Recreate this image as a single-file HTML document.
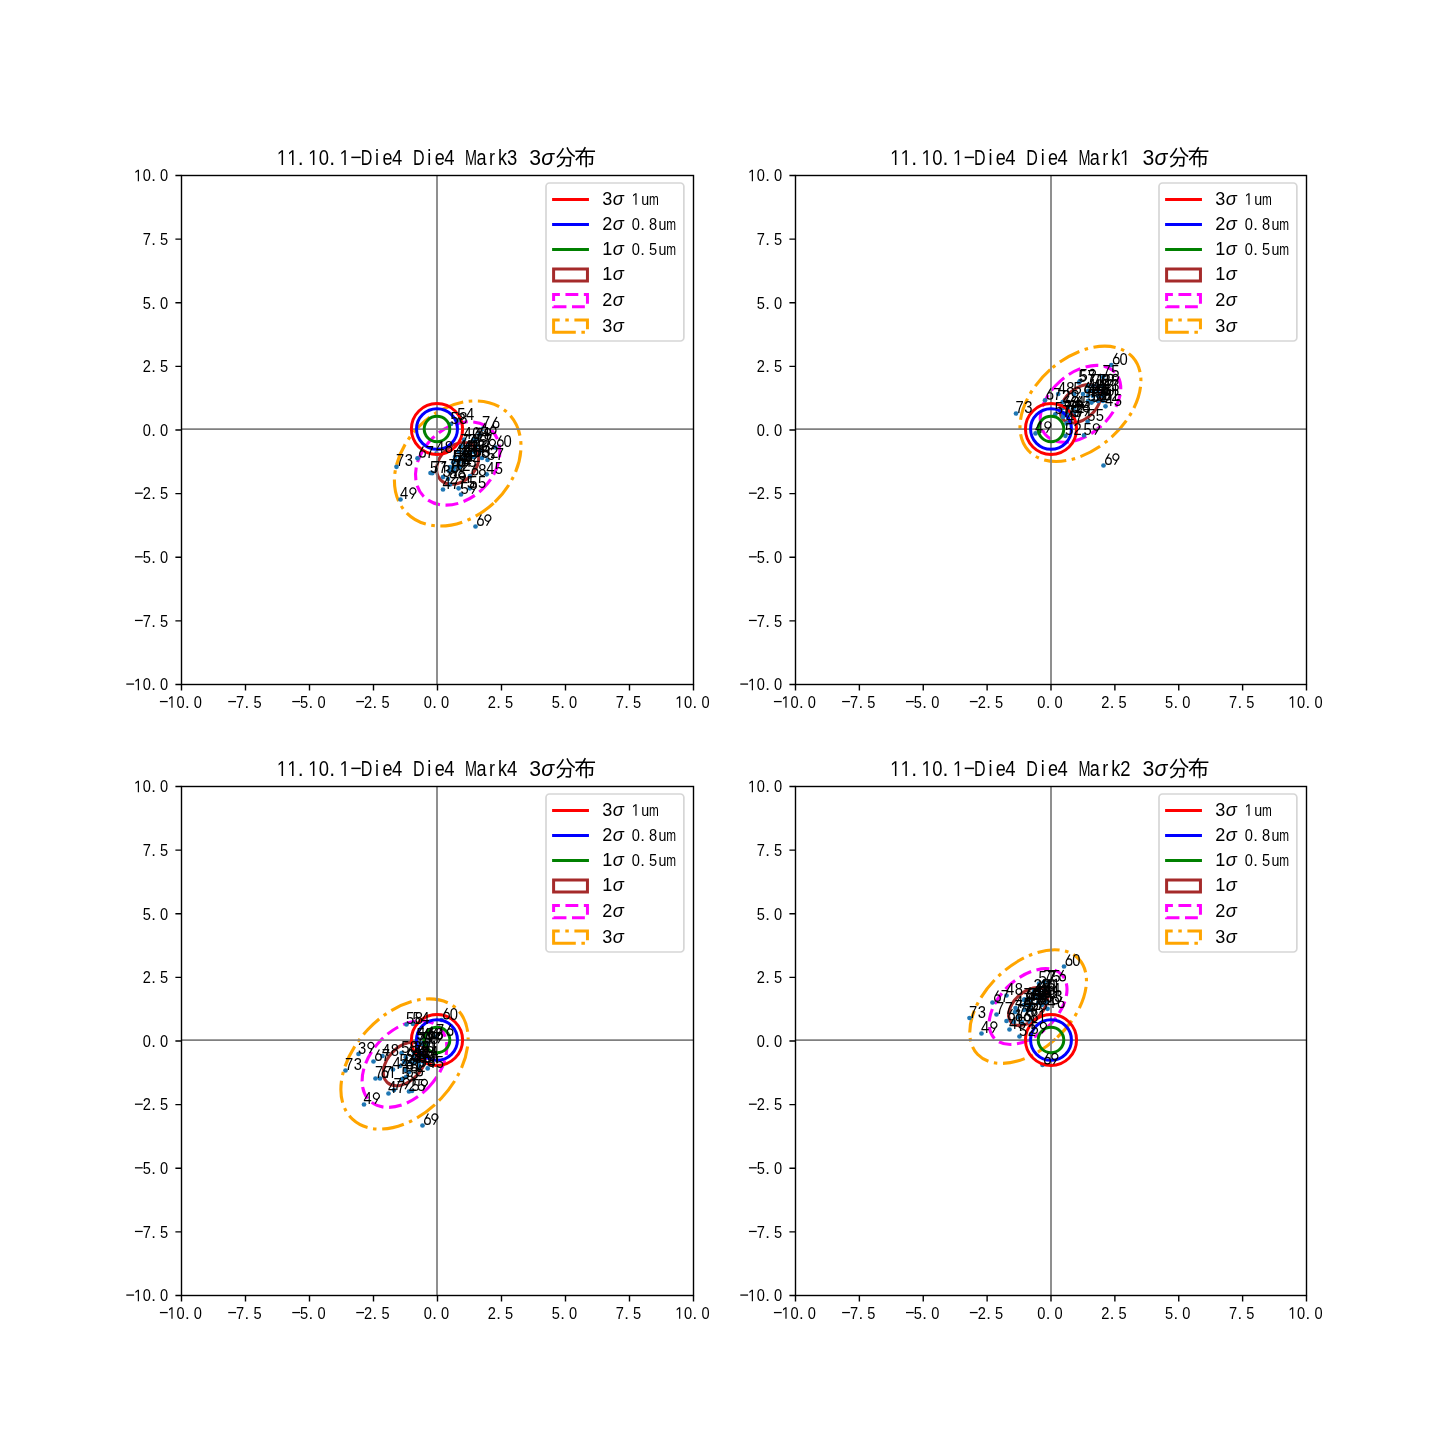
<!DOCTYPE html><html><head><meta charset="utf-8"><title>3sigma</title><style>html,body{margin:0;padding:0;background:#fff;}svg{display:block;will-change:transform;}</style></head><body>
<svg width="1451" height="1455" viewBox="0 0 1451 1455" font-family='"Liberation Sans", sans-serif'>
<defs><path id="g1" d="M530 0V1237L197 1010V1180L530 1409H696V0Z"/><path id="g6" d="M0.342 -0.661L0.132 -0.3M0.451 -0.221A0.164 0.187 0 1 0 0.123 -0.221A0.164 0.187 0 1 0 0.451 -0.221Z" fill="none" stroke="#000" stroke-width="0.07"/><path id="g9" d="M0.391 -0.457A0.175 0.187 0 1 0 0.041 -0.457A0.175 0.187 0 1 0 0.391 -0.457ZM0.388 -0.43L0.138 -0.011" fill="none" stroke="#000" stroke-width="0.07"/></defs>
<rect width="1451" height="1455" fill="#fff"/>
<g fill="none" stroke-width="3.1" transform="translate(457.7 463.45) rotate(136.2)">
<path d="M0 -17.83 A23.7 17.83 0 0 0 -23.7 0 A23.7 17.83 0 0 0 0 17.83 A23.7 17.83 0 0 0 23.7 0 A23.7 17.83 0 0 0 0 -17.83" stroke="#a52a2a"/>
<path d="M0 -35.67 A47.4 35.67 0 0 0 -47.4 0 A47.4 35.67 0 0 0 0 35.67 A47.4 35.67 0 0 0 47.4 0 A47.4 35.67 0 0 0 0 -35.67" stroke="#ff00ff" stroke-dasharray="12.85 5.55"/>
<path d="M0 -53.5 A71.1 53.5 0 0 0 -71.1 0 A71.1 53.5 0 0 0 0 53.5 A71.1 53.5 0 0 0 71.1 0 A71.1 53.5 0 0 0 0 -53.5" stroke="#ffa500" stroke-dasharray="22.2 5.6 3.5 5.6"/>
</g>
<circle cx="396.5" cy="466.8" r="2.35" fill="#1f77b4"/>
<circle cx="400.5" cy="499.5" r="2.35" fill="#1f77b4"/>
<circle cx="475.5" cy="526.5" r="2.35" fill="#1f77b4"/>
<circle cx="486.7" cy="474.3" r="2.35" fill="#1f77b4"/>
<circle cx="417.5" cy="458.3" r="2.35" fill="#1f77b4"/>
<circle cx="436.5" cy="453.3" r="2.35" fill="#1f77b4"/>
<circle cx="451" cy="424" r="2.35" fill="#1f77b4"/>
<circle cx="457.8" cy="420.5" r="2.35" fill="#1f77b4"/>
<circle cx="482.4" cy="428.8" r="2.35" fill="#1f77b4"/>
<circle cx="475.5" cy="440" r="2.35" fill="#1f77b4"/>
<circle cx="479.5" cy="434.7" r="2.35" fill="#1f77b4"/>
<circle cx="464" cy="439.5" r="2.35" fill="#1f77b4"/>
<circle cx="473.5" cy="439.5" r="2.35" fill="#1f77b4"/>
<circle cx="430.5" cy="473" r="2.35" fill="#1f77b4"/>
<circle cx="432.2" cy="473.2" r="2.35" fill="#1f77b4"/>
<circle cx="443" cy="477.1" r="2.35" fill="#1f77b4"/>
<circle cx="443" cy="489.5" r="2.35" fill="#1f77b4"/>
<circle cx="461" cy="494.5" r="2.35" fill="#1f77b4"/>
<circle cx="469.8" cy="488.3" r="2.35" fill="#1f77b4"/>
<circle cx="470" cy="476.1" r="2.35" fill="#1f77b4"/>
<circle cx="450" cy="484.5" r="2.35" fill="#1f77b4"/>
<circle cx="458.6" cy="488.3" r="2.35" fill="#1f77b4"/>
<circle cx="459" cy="452" r="2.35" fill="#1f77b4"/>
<circle cx="464" cy="452" r="2.35" fill="#1f77b4"/>
<circle cx="469" cy="452" r="2.35" fill="#1f77b4"/>
<circle cx="474" cy="452" r="2.35" fill="#1f77b4"/>
<circle cx="455" cy="457" r="2.35" fill="#1f77b4"/>
<circle cx="460" cy="457" r="2.35" fill="#1f77b4"/>
<circle cx="465" cy="457" r="2.35" fill="#1f77b4"/>
<circle cx="470" cy="457" r="2.35" fill="#1f77b4"/>
<circle cx="474" cy="457" r="2.35" fill="#1f77b4"/>
<circle cx="454" cy="462" r="2.35" fill="#1f77b4"/>
<circle cx="459" cy="462" r="2.35" fill="#1f77b4"/>
<circle cx="464" cy="462" r="2.35" fill="#1f77b4"/>
<circle cx="450" cy="467" r="2.35" fill="#1f77b4"/>
<circle cx="455" cy="467" r="2.35" fill="#1f77b4"/>
<circle cx="460" cy="467" r="2.35" fill="#1f77b4"/>
<circle cx="449" cy="471" r="2.35" fill="#1f77b4"/>
<circle cx="454" cy="471" r="2.35" fill="#1f77b4"/>
<circle cx="461" cy="446" r="2.35" fill="#1f77b4"/>
<circle cx="468" cy="446" r="2.35" fill="#1f77b4"/>
<circle cx="476" cy="446" r="2.35" fill="#1f77b4"/>
<circle cx="480" cy="451" r="2.35" fill="#1f77b4"/>
<circle cx="482" cy="458" r="2.35" fill="#1f77b4"/>
<circle cx="487.5" cy="460" r="2.35" fill="#1f77b4"/>
<circle cx="453.2" cy="462.3" r="2.35" fill="#1f77b4"/>
<circle cx="448" cy="479" r="2.35" fill="#1f77b4"/>
<circle cx="495.4" cy="447.4" r="2.35" fill="#1f77b4"/>
<path d="M181.5 429 H693.5 M437 175.5 V684.5" stroke="#808080" stroke-width="1.75" fill="none"/>
<ellipse cx="437" cy="429" rx="25.6" ry="25.45" fill="none" stroke="#ff0000" stroke-width="3"/>
<ellipse cx="437" cy="429" rx="20.48" ry="20.36" fill="none" stroke="#0000ff" stroke-width="3"/>
<ellipse cx="437" cy="429" rx="12.8" ry="12.72" fill="none" stroke="#008000" stroke-width="3"/>
<text transform="translate(400.13 466.3) scale(0.87 1)" x="0 9.94" y="0" font-size="17" text-anchor="middle" fill="#000">73</text>
<text transform="translate(404.13 499) scale(0.87 1)" x="0" y="0" font-size="17" text-anchor="middle" fill="#000">4</text>
<use href="#g9" transform="translate(409.15 499) scale(17.3)"/>
<use href="#g6" transform="translate(475.5 526) scale(17.3)"/>
<use href="#g9" transform="translate(484.15 526) scale(17.3)"/>
<text transform="translate(490.33 473.8) scale(0.87 1)" x="0 9.94" y="0" font-size="17" text-anchor="middle" fill="#000">45</text>
<use href="#g6" transform="translate(417.5 457.8) scale(17.3)"/>
<text transform="translate(429.78 457.8) scale(0.87 1)" x="0" y="0" font-size="17" text-anchor="middle" fill="#000">7</text>
<text transform="translate(440.13 452.8) scale(0.87 1)" x="0 9.94" y="0" font-size="17" text-anchor="middle" fill="#000">48</text>
<text transform="translate(454.63 423.5) scale(0.87 1)" x="0 9.94" y="0" font-size="17" text-anchor="middle" fill="#000">58</text>
<text transform="translate(461.43 420) scale(0.87 1)" x="0 9.94" y="0" font-size="17" text-anchor="middle" fill="#000">54</text>
<text transform="translate(486.03 428.3) scale(0.87 1)" x="0" y="0" font-size="17" text-anchor="middle" fill="#000">7</text>
<use href="#g6" transform="translate(491.05 428.3) scale(17.3)"/>
<text transform="translate(479.13 439.5) scale(0.87 1)" x="0 9.94" y="0" font-size="17" text-anchor="middle" fill="#000">78</text>
<use href="#g6" transform="translate(479.5 434.2) scale(17.3)"/>
<use href="#g6" transform="translate(488.15 434.2) scale(17.3)"/>
<text transform="translate(467.63 439) scale(0.87 1)" x="0 9.94" y="0" font-size="17" text-anchor="middle" fill="#000">40</text>
<use href="#g6" transform="translate(473.5 439) scale(17.3)"/>
<text transform="translate(485.78 439) scale(0.87 1)" x="0" y="0" font-size="17" text-anchor="middle" fill="#000">4</text>
<text transform="translate(434.13 472.5) scale(0.87 1)" x="0 9.94" y="0" font-size="17" text-anchor="middle" fill="#000">57</text>
<text transform="translate(435.83 472.7) scale(0.87 1)" x="0" y="0" font-size="17" text-anchor="middle" fill="#000">7</text>
<use href="#g1" transform="translate(440.2 472.7) scale(0.00722 -0.00830)" fill="#000"/>
<text transform="translate(446.63 476.6) scale(0.87 1)" x="0" y="0" font-size="17" text-anchor="middle" fill="#000">3</text>
<use href="#g9" transform="translate(451.65 476.6) scale(17.3)"/>
<text transform="translate(446.63 489) scale(0.87 1)" x="0 9.94" y="0" font-size="17" text-anchor="middle" fill="#000">47</text>
<text transform="translate(464.63 494) scale(0.87 1)" x="0" y="0" font-size="17" text-anchor="middle" fill="#000">5</text>
<use href="#g9" transform="translate(469.65 494) scale(17.3)"/>
<text transform="translate(473.43 487.8) scale(0.87 1)" x="0 9.94" y="0" font-size="17" text-anchor="middle" fill="#000">55</text>
<use href="#g6" transform="translate(470 475.6) scale(17.3)"/>
<text transform="translate(482.28 475.6) scale(0.87 1)" x="0" y="0" font-size="17" text-anchor="middle" fill="#000">8</text>
<text transform="translate(453.63 484) scale(0.87 1)" x="0" y="0" font-size="17" text-anchor="middle" fill="#000">2</text>
<use href="#g9" transform="translate(458.65 484) scale(17.3)"/>
<text transform="translate(462.23 487.8) scale(0.87 1)" x="0 9.94" y="0" font-size="17" text-anchor="middle" fill="#000">75</text>
<text transform="translate(462.63 451.5) scale(0.87 1)" x="0 9.94" y="0" font-size="17" text-anchor="middle" fill="#000">40</text>
<text transform="translate(467.63 451.5) scale(0.87 1)" x="0" y="0" font-size="17" text-anchor="middle" fill="#000">4</text>
<use href="#g1" transform="translate(472 451.5) scale(0.00722 -0.00830)" fill="#000"/>
<text transform="translate(472.63 451.5) scale(0.87 1)" x="0 9.94" y="0" font-size="17" text-anchor="middle" fill="#000">42</text>
<text transform="translate(477.63 451.5) scale(0.87 1)" x="0 9.94" y="0" font-size="17" text-anchor="middle" fill="#000">43</text>
<text transform="translate(458.63 456.5) scale(0.87 1)" x="0 9.94" y="0" font-size="17" text-anchor="middle" fill="#000">44</text>
<text transform="translate(463.63 456.5) scale(0.87 1)" x="0" y="0" font-size="17" text-anchor="middle" fill="#000">4</text>
<use href="#g6" transform="translate(468.65 456.5) scale(17.3)"/>
<text transform="translate(468.63 456.5) scale(0.87 1)" x="0 9.94" y="0" font-size="17" text-anchor="middle" fill="#000">50</text>
<text transform="translate(473.63 456.5) scale(0.87 1)" x="0" y="0" font-size="17" text-anchor="middle" fill="#000">5</text>
<use href="#g1" transform="translate(478 456.5) scale(0.00722 -0.00830)" fill="#000"/>
<text transform="translate(477.63 456.5) scale(0.87 1)" x="0 9.94" y="0" font-size="17" text-anchor="middle" fill="#000">53</text>
<text transform="translate(457.63 461.5) scale(0.87 1)" x="0" y="0" font-size="17" text-anchor="middle" fill="#000">5</text>
<use href="#g6" transform="translate(462.65 461.5) scale(17.3)"/>
<use href="#g6" transform="translate(459 461.5) scale(17.3)"/>
<use href="#g1" transform="translate(467 461.5) scale(0.00722 -0.00830)" fill="#000"/>
<use href="#g6" transform="translate(464 461.5) scale(17.3)"/>
<text transform="translate(476.28 461.5) scale(0.87 1)" x="0" y="0" font-size="17" text-anchor="middle" fill="#000">2</text>
<use href="#g6" transform="translate(450 466.5) scale(17.3)"/>
<text transform="translate(462.28 466.5) scale(0.87 1)" x="0" y="0" font-size="17" text-anchor="middle" fill="#000">3</text>
<use href="#g6" transform="translate(455 466.5) scale(17.3)"/>
<text transform="translate(467.28 466.5) scale(0.87 1)" x="0" y="0" font-size="17" text-anchor="middle" fill="#000">4</text>
<use href="#g6" transform="translate(460 466.5) scale(17.3)"/>
<text transform="translate(472.28 466.5) scale(0.87 1)" x="0" y="0" font-size="17" text-anchor="middle" fill="#000">5</text>
<text transform="translate(452.63 470.5) scale(0.87 1)" x="0 9.94" y="0" font-size="17" text-anchor="middle" fill="#000">70</text>
<text transform="translate(457.63 470.5) scale(0.87 1)" x="0 9.94" y="0" font-size="17" text-anchor="middle" fill="#000">72</text>
<text transform="translate(464.63 445.5) scale(0.87 1)" x="0 9.94" y="0" font-size="17" text-anchor="middle" fill="#000">74</text>
<text transform="translate(471.63 445.5) scale(0.87 1)" x="0 9.94" y="0" font-size="17" text-anchor="middle" fill="#000">75</text>
<text transform="translate(479.63 445.5) scale(0.87 1)" x="0 9.94" y="0" font-size="17" text-anchor="middle" fill="#000">77</text>
<text transform="translate(483.63 450.5) scale(0.87 1)" x="0" y="0" font-size="17" text-anchor="middle" fill="#000">3</text>
<use href="#g9" transform="translate(488.65 450.5) scale(17.3)"/>
<text transform="translate(485.63 457.5) scale(0.87 1)" x="0 9.94" y="0" font-size="17" text-anchor="middle" fill="#000">52</text>
<text transform="translate(491.13 459.5) scale(0.87 1)" x="0 9.94" y="0" font-size="17" text-anchor="middle" fill="#000">57</text>
<text transform="translate(456.83 461.8) scale(0.87 1)" x="0 9.94" y="0" font-size="17" text-anchor="middle" fill="#000">58</text>
<use href="#g6" transform="translate(448 478.5) scale(17.3)"/>
<use href="#g6" transform="translate(456.65 478.5) scale(17.3)"/>
<use href="#g6" transform="translate(495.4 446.9) scale(17.3)"/>
<text transform="translate(507.68 446.9) scale(0.87 1)" x="0" y="0" font-size="17" text-anchor="middle" fill="#000">0</text>
<rect x="181.5" y="175.5" width="512" height="509" fill="none" stroke="#000" stroke-width="1.4"/>
<path d="M181.5 684.5 v6.1 M181.5 684.5 h-6.1 M245.5 684.5 v6.1 M181.5 620.88 h-6.1 M309.5 684.5 v6.1 M181.5 557.25 h-6.1 M373.5 684.5 v6.1 M181.5 493.62 h-6.1 M437.5 684.5 v6.1 M181.5 430 h-6.1 M501.5 684.5 v6.1 M181.5 366.38 h-6.1 M565.5 684.5 v6.1 M181.5 302.75 h-6.1 M629.5 684.5 v6.1 M181.5 239.12 h-6.1 M693.5 684.5 v6.1 M181.5 175.5 h-6.1" stroke="#000" stroke-width="1.4" fill="none"/>
<rect x="159.92" y="700.95" width="7.79" height="1.25" fill="#000"/>
<use href="#g1" transform="translate(167.62 707.8) scale(0.00714 -0.00820)" fill="#000"/>
<text transform="translate(180.51 707.8) scale(0.87 1)" x="0" y="0" font-size="16.8" text-anchor="middle" fill="#000">0</text>
<text x="187.25" y="707.8" font-size="16.8" text-anchor="middle" fill="#000">.</text>
<text transform="translate(197.81 707.8) scale(0.87 1)" x="0" y="0" font-size="16.8" text-anchor="middle" fill="#000">0</text>
<rect x="126.3" y="683.45" width="7.79" height="1.25" fill="#000"/>
<use href="#g1" transform="translate(134 690.3) scale(0.00714 -0.00820)" fill="#000"/>
<text transform="translate(146.88 690.3) scale(0.87 1)" x="0" y="0" font-size="16.8" text-anchor="middle" fill="#000">0</text>
<text x="153.63" y="690.3" font-size="16.8" text-anchor="middle" fill="#000">.</text>
<text transform="translate(164.18 690.3) scale(0.87 1)" x="0" y="0" font-size="16.8" text-anchor="middle" fill="#000">0</text>
<rect x="228.25" y="700.95" width="7.79" height="1.25" fill="#000"/>
<text transform="translate(240.18 707.8) scale(0.87 1)" x="0" y="0" font-size="16.8" text-anchor="middle" fill="#000">7</text>
<text x="246.93" y="707.8" font-size="16.8" text-anchor="middle" fill="#000">.</text>
<text transform="translate(257.48 707.8) scale(0.87 1)" x="0" y="0" font-size="16.8" text-anchor="middle" fill="#000">5</text>
<rect x="134.95" y="619.82" width="7.79" height="1.25" fill="#000"/>
<text transform="translate(146.88 626.67) scale(0.87 1)" x="0" y="0" font-size="16.8" text-anchor="middle" fill="#000">7</text>
<text x="153.63" y="626.67" font-size="16.8" text-anchor="middle" fill="#000">.</text>
<text transform="translate(164.18 626.67) scale(0.87 1)" x="0" y="0" font-size="16.8" text-anchor="middle" fill="#000">5</text>
<rect x="292.25" y="700.95" width="7.79" height="1.25" fill="#000"/>
<text transform="translate(304.18 707.8) scale(0.87 1)" x="0" y="0" font-size="16.8" text-anchor="middle" fill="#000">5</text>
<text x="310.93" y="707.8" font-size="16.8" text-anchor="middle" fill="#000">.</text>
<text transform="translate(321.48 707.8) scale(0.87 1)" x="0" y="0" font-size="16.8" text-anchor="middle" fill="#000">0</text>
<rect x="134.95" y="556.2" width="7.79" height="1.25" fill="#000"/>
<text transform="translate(146.88 563.05) scale(0.87 1)" x="0" y="0" font-size="16.8" text-anchor="middle" fill="#000">5</text>
<text x="153.63" y="563.05" font-size="16.8" text-anchor="middle" fill="#000">.</text>
<text transform="translate(164.18 563.05) scale(0.87 1)" x="0" y="0" font-size="16.8" text-anchor="middle" fill="#000">0</text>
<rect x="356.25" y="700.95" width="7.79" height="1.25" fill="#000"/>
<text transform="translate(368.18 707.8) scale(0.87 1)" x="0" y="0" font-size="16.8" text-anchor="middle" fill="#000">2</text>
<text x="374.93" y="707.8" font-size="16.8" text-anchor="middle" fill="#000">.</text>
<text transform="translate(385.48 707.8) scale(0.87 1)" x="0" y="0" font-size="16.8" text-anchor="middle" fill="#000">5</text>
<rect x="134.95" y="492.57" width="7.79" height="1.25" fill="#000"/>
<text transform="translate(146.88 499.43) scale(0.87 1)" x="0" y="0" font-size="16.8" text-anchor="middle" fill="#000">2</text>
<text x="153.63" y="499.43" font-size="16.8" text-anchor="middle" fill="#000">.</text>
<text transform="translate(164.18 499.43) scale(0.87 1)" x="0" y="0" font-size="16.8" text-anchor="middle" fill="#000">5</text>
<text transform="translate(427.86 707.8) scale(0.87 1)" x="0" y="0" font-size="16.8" text-anchor="middle" fill="#000">0</text>
<text x="434.6" y="707.8" font-size="16.8" text-anchor="middle" fill="#000">.</text>
<text transform="translate(445.16 707.8) scale(0.87 1)" x="0" y="0" font-size="16.8" text-anchor="middle" fill="#000">0</text>
<text transform="translate(146.88 435.8) scale(0.87 1)" x="0" y="0" font-size="16.8" text-anchor="middle" fill="#000">0</text>
<text x="153.63" y="435.8" font-size="16.8" text-anchor="middle" fill="#000">.</text>
<text transform="translate(164.18 435.8) scale(0.87 1)" x="0" y="0" font-size="16.8" text-anchor="middle" fill="#000">0</text>
<text transform="translate(491.86 707.8) scale(0.87 1)" x="0" y="0" font-size="16.8" text-anchor="middle" fill="#000">2</text>
<text x="498.6" y="707.8" font-size="16.8" text-anchor="middle" fill="#000">.</text>
<text transform="translate(509.16 707.8) scale(0.87 1)" x="0" y="0" font-size="16.8" text-anchor="middle" fill="#000">5</text>
<text transform="translate(146.88 372.18) scale(0.87 1)" x="0" y="0" font-size="16.8" text-anchor="middle" fill="#000">2</text>
<text x="153.63" y="372.18" font-size="16.8" text-anchor="middle" fill="#000">.</text>
<text transform="translate(164.18 372.18) scale(0.87 1)" x="0" y="0" font-size="16.8" text-anchor="middle" fill="#000">5</text>
<text transform="translate(555.86 707.8) scale(0.87 1)" x="0" y="0" font-size="16.8" text-anchor="middle" fill="#000">5</text>
<text x="562.61" y="707.8" font-size="16.8" text-anchor="middle" fill="#000">.</text>
<text transform="translate(573.16 707.8) scale(0.87 1)" x="0" y="0" font-size="16.8" text-anchor="middle" fill="#000">0</text>
<text transform="translate(146.88 308.55) scale(0.87 1)" x="0" y="0" font-size="16.8" text-anchor="middle" fill="#000">5</text>
<text x="153.63" y="308.55" font-size="16.8" text-anchor="middle" fill="#000">.</text>
<text transform="translate(164.18 308.55) scale(0.87 1)" x="0" y="0" font-size="16.8" text-anchor="middle" fill="#000">0</text>
<text transform="translate(619.86 707.8) scale(0.87 1)" x="0" y="0" font-size="16.8" text-anchor="middle" fill="#000">7</text>
<text x="626.61" y="707.8" font-size="16.8" text-anchor="middle" fill="#000">.</text>
<text transform="translate(637.16 707.8) scale(0.87 1)" x="0" y="0" font-size="16.8" text-anchor="middle" fill="#000">5</text>
<text transform="translate(146.88 244.93) scale(0.87 1)" x="0" y="0" font-size="16.8" text-anchor="middle" fill="#000">7</text>
<text x="153.63" y="244.93" font-size="16.8" text-anchor="middle" fill="#000">.</text>
<text transform="translate(164.18 244.93) scale(0.87 1)" x="0" y="0" font-size="16.8" text-anchor="middle" fill="#000">5</text>
<use href="#g1" transform="translate(675.3 707.8) scale(0.00714 -0.00820)" fill="#000"/>
<text transform="translate(688.18 707.8) scale(0.87 1)" x="0" y="0" font-size="16.8" text-anchor="middle" fill="#000">0</text>
<text x="694.93" y="707.8" font-size="16.8" text-anchor="middle" fill="#000">.</text>
<text transform="translate(705.48 707.8) scale(0.87 1)" x="0" y="0" font-size="16.8" text-anchor="middle" fill="#000">0</text>
<use href="#g1" transform="translate(134 181.3) scale(0.00714 -0.00820)" fill="#000"/>
<text transform="translate(146.88 181.3) scale(0.87 1)" x="0" y="0" font-size="16.8" text-anchor="middle" fill="#000">0</text>
<text x="153.63" y="181.3" font-size="16.8" text-anchor="middle" fill="#000">.</text>
<text transform="translate(164.18 181.3) scale(0.87 1)" x="0" y="0" font-size="16.8" text-anchor="middle" fill="#000">0</text>
<use href="#g1" transform="translate(276.8 164.9) scale(0.00901 -0.01035)" fill="#000"/>
<use href="#g1" transform="translate(287.25 164.9) scale(0.00901 -0.01035)" fill="#000"/>
<text x="300.74" y="164.9" font-size="21.2" text-anchor="middle" fill="#000">.</text>
<use href="#g1" transform="translate(308.15 164.9) scale(0.00901 -0.01035)" fill="#000"/>
<text transform="translate(323.94 164.9) scale(0.87 1)" x="0" y="0" font-size="21.2" text-anchor="middle" fill="#000">0</text>
<text x="332.09" y="164.9" font-size="21.2" text-anchor="middle" fill="#000">.</text>
<use href="#g1" transform="translate(339.5 164.9) scale(0.00901 -0.01035)" fill="#000"/>
<rect x="351.32" y="156.62" width="9.4" height="1.5" fill="#000"/>
<text transform="translate(366.57 164.9) scale(0.76 1)" x="0" y="0" font-size="21.2" text-anchor="middle" fill="#000">D</text>
<text transform="translate(377.02 164.9) scale(0.85 1)" x="0 12.29" y="0" font-size="21.2" text-anchor="middle" fill="#000">ie</text>
<text transform="translate(397.09 164.9) scale(0.87 1)" x="0" y="0" font-size="21.2" text-anchor="middle" fill="#000">4</text>
<text transform="translate(418.82 164.9) scale(0.76 1)" x="0" y="0" font-size="21.2" text-anchor="middle" fill="#000">D</text>
<text transform="translate(429.27 164.9) scale(0.85 1)" x="0 12.29" y="0" font-size="21.2" text-anchor="middle" fill="#000">ie</text>
<text transform="translate(449.34 164.9) scale(0.87 1)" x="0" y="0" font-size="21.2" text-anchor="middle" fill="#000">4</text>
<text transform="translate(471.07 164.9) scale(0.68 1)" x="0" y="0" font-size="21.2" text-anchor="middle" fill="#000">M</text>
<text transform="translate(481.52 164.9) scale(0.85 1)" x="0 12.29 24.59" y="0" font-size="21.2" text-anchor="middle" fill="#000">ark</text>
<text transform="translate(512.04 164.9) scale(0.87 1)" x="0" y="0" font-size="21.2" text-anchor="middle" fill="#000">3</text>
<text x="529.15" y="164.9" font-size="21.2">3</text>
<text x="541.15" y="164.9" font-size="21.5" font-style="italic">σ</text>
<path d="M562.98 148.94 L561.18 152.04 L559.11 154.63 L557.3 156.95 M567.38 148.17 L568.93 151.27 L571.51 154.11 L574.1 156.18 M560.66 157.57 L570.48 157.57 L570.22 164.71 L569.7 166 L566.34 165.74 M564.53 157.99 L563.5 161.6 L561.18 164.71 L557.82 166.51 M576.16 151.27 L594.25 151.27 M584.95 147.91 L582.36 152.56 L579.26 156.44 L576.42 159.54 M580.81 156.7 L580.81 164.45 M580.81 156.7 L592.44 156.7 L592.18 163.41 L591.67 164.19 L589.5 163.93 M586.24 152.82 L586.24 166.51" fill="none" stroke="#000" stroke-width="1.6" stroke-linecap="square" stroke-linejoin="miter"/>
<rect x="546" y="183" width="137.85" height="158" rx="3.5" ry="3.5" fill="#fff" fill-opacity="0.8" stroke="#cccccc" stroke-opacity="0.8" stroke-width="1.7"/>
<path d="M553.6 199.4 H587.45" stroke="#ff0000" stroke-width="3" stroke-linecap="square"/>
<path d="M553.6 224.5 H587.45" stroke="#0000ff" stroke-width="3" stroke-linecap="square"/>
<path d="M553.6 249.5 H587.45" stroke="#008000" stroke-width="3" stroke-linecap="square"/>
<path d="M553.6 281.1 H587.45 V268.9 H553.6 Z" fill="none" stroke="#a52a2a" stroke-width="3"/>
<path d="M553.6 306.7 H587.45 V294.5 H553.6 Z" fill="none" stroke="#ff00ff" stroke-width="3" stroke-dasharray="12.85 5.55"/>
<path d="M553.6 332.3 H587.45 V320.1 H553.6 Z" fill="none" stroke="#ffa500" stroke-width="3" stroke-dasharray="22.2 5.6 3.5 5.6"/>
<text x="602.35" y="204.7" font-size="18.1">3</text>
<text x="612.85" y="204.7" font-size="18.4" font-style="italic">σ</text>
<use href="#g1" transform="translate(631.6 204.7) scale(0.00714 -0.00820)" fill="#000"/>
<text transform="translate(645.18 204.7) scale(0.85 1)" x="0" y="0" font-size="16.8" text-anchor="middle" fill="#000">u</text>
<text transform="translate(653.83 204.7) scale(0.7 1)" x="0" y="0" font-size="16.8" text-anchor="middle" fill="#000">m</text>
<text x="602.35" y="229.8" font-size="18.1">2</text>
<text x="612.85" y="229.8" font-size="18.4" font-style="italic">σ</text>
<text transform="translate(635.83 229.8) scale(0.87 1)" x="0" y="0" font-size="16.8" text-anchor="middle" fill="#000">0</text>
<text x="642.58" y="229.8" font-size="16.8" text-anchor="middle" fill="#000">.</text>
<text transform="translate(653.13 229.8) scale(0.87 1)" x="0" y="0" font-size="16.8" text-anchor="middle" fill="#000">8</text>
<text transform="translate(662.48 229.8) scale(0.85 1)" x="0" y="0" font-size="16.8" text-anchor="middle" fill="#000">u</text>
<text transform="translate(671.12 229.8) scale(0.7 1)" x="0" y="0" font-size="16.8" text-anchor="middle" fill="#000">m</text>
<text x="602.35" y="254.8" font-size="18.1">1</text>
<text x="612.85" y="254.8" font-size="18.4" font-style="italic">σ</text>
<text transform="translate(635.83 254.8) scale(0.87 1)" x="0" y="0" font-size="16.8" text-anchor="middle" fill="#000">0</text>
<text x="642.58" y="254.8" font-size="16.8" text-anchor="middle" fill="#000">.</text>
<text transform="translate(653.13 254.8) scale(0.87 1)" x="0" y="0" font-size="16.8" text-anchor="middle" fill="#000">5</text>
<text transform="translate(662.48 254.8) scale(0.85 1)" x="0" y="0" font-size="16.8" text-anchor="middle" fill="#000">u</text>
<text transform="translate(671.12 254.8) scale(0.7 1)" x="0" y="0" font-size="16.8" text-anchor="middle" fill="#000">m</text>
<text x="602.35" y="280.3" font-size="18.1">1</text>
<text x="612.85" y="280.3" font-size="18.4" font-style="italic">σ</text>
<text x="602.35" y="305.9" font-size="18.1">2</text>
<text x="612.85" y="305.9" font-size="18.4" font-style="italic">σ</text>
<text x="602.35" y="331.5" font-size="18.1">3</text>
<text x="612.85" y="331.5" font-size="18.4" font-style="italic">σ</text>
<g fill="none" stroke-width="3.1" transform="translate(1080.45 403.8) rotate(138.4)">
<path d="M0 15.2 A23.33 15.2 0 0 0 23.33 0 A23.33 15.2 0 0 0 0 -15.2 A23.33 15.2 0 0 0 -23.33 0 A23.33 15.2 0 0 0 0 15.2" stroke="#a52a2a"/>
<path d="M0 30.4 A46.67 30.4 0 0 0 46.67 0 A46.67 30.4 0 0 0 0 -30.4 A46.67 30.4 0 0 0 -46.67 0 A46.67 30.4 0 0 0 0 30.4" stroke="#ff00ff" stroke-dasharray="12.85 5.55"/>
<path d="M0 45.6 A70 45.6 0 0 0 70 0 A70 45.6 0 0 0 0 -45.6 A70 45.6 0 0 0 -70 0 A70 45.6 0 0 0 0 45.6" stroke="#ffa500" stroke-dasharray="22.2 5.6 3.5 5.6"/>
</g>
<circle cx="1016" cy="413.5" r="2.35" fill="#1f77b4"/>
<circle cx="1103.5" cy="465.5" r="2.35" fill="#1f77b4"/>
<circle cx="1035.5" cy="433.4" r="2.35" fill="#1f77b4"/>
<circle cx="1084" cy="435.4" r="2.35" fill="#1f77b4"/>
<circle cx="1065.4" cy="435.8" r="2.35" fill="#1f77b4"/>
<circle cx="1066.5" cy="423.4" r="2.35" fill="#1f77b4"/>
<circle cx="1087.6" cy="421.8" r="2.35" fill="#1f77b4"/>
<circle cx="1055.3" cy="414.3" r="2.35" fill="#1f77b4"/>
<circle cx="1045" cy="400.3" r="2.35" fill="#1f77b4"/>
<circle cx="1058.2" cy="394" r="2.35" fill="#1f77b4"/>
<circle cx="1074" cy="394" r="2.35" fill="#1f77b4"/>
<circle cx="1080" cy="381" r="2.35" fill="#1f77b4"/>
<circle cx="1103" cy="377" r="2.35" fill="#1f77b4"/>
<circle cx="1083" cy="394" r="2.35" fill="#1f77b4"/>
<circle cx="1062.7" cy="402" r="2.35" fill="#1f77b4"/>
<circle cx="1088" cy="386" r="2.35" fill="#1f77b4"/>
<circle cx="1093" cy="386" r="2.35" fill="#1f77b4"/>
<circle cx="1098" cy="386" r="2.35" fill="#1f77b4"/>
<circle cx="1103" cy="386" r="2.35" fill="#1f77b4"/>
<circle cx="1088" cy="391" r="2.35" fill="#1f77b4"/>
<circle cx="1093" cy="391" r="2.35" fill="#1f77b4"/>
<circle cx="1098" cy="391" r="2.35" fill="#1f77b4"/>
<circle cx="1103" cy="391" r="2.35" fill="#1f77b4"/>
<circle cx="1088" cy="396" r="2.35" fill="#1f77b4"/>
<circle cx="1093" cy="396" r="2.35" fill="#1f77b4"/>
<circle cx="1098" cy="396" r="2.35" fill="#1f77b4"/>
<circle cx="1103" cy="396" r="2.35" fill="#1f77b4"/>
<circle cx="1088" cy="401" r="2.35" fill="#1f77b4"/>
<circle cx="1093" cy="401" r="2.35" fill="#1f77b4"/>
<circle cx="1098" cy="401" r="2.35" fill="#1f77b4"/>
<circle cx="1103" cy="401" r="2.35" fill="#1f77b4"/>
<circle cx="1063" cy="408" r="2.35" fill="#1f77b4"/>
<circle cx="1068" cy="408" r="2.35" fill="#1f77b4"/>
<circle cx="1074" cy="408" r="2.35" fill="#1f77b4"/>
<circle cx="1063" cy="413" r="2.35" fill="#1f77b4"/>
<circle cx="1068" cy="413" r="2.35" fill="#1f77b4"/>
<circle cx="1074" cy="413" r="2.35" fill="#1f77b4"/>
<circle cx="1063" cy="417" r="2.35" fill="#1f77b4"/>
<circle cx="1068" cy="417" r="2.35" fill="#1f77b4"/>
<circle cx="1074" cy="417" r="2.35" fill="#1f77b4"/>
<circle cx="1105.5" cy="406.3" r="2.35" fill="#1f77b4"/>
<circle cx="1091.5" cy="402.6" r="2.35" fill="#1f77b4"/>
<circle cx="1079" cy="382.5" r="2.35" fill="#1f77b4"/>
<circle cx="1111.3" cy="365" r="2.35" fill="#1f77b4"/>
<path d="M795.5 429 H1306.5 M1051 175.5 V684.5" stroke="#808080" stroke-width="1.75" fill="none"/>
<ellipse cx="1051" cy="429" rx="25.55" ry="25.45" fill="none" stroke="#ff0000" stroke-width="3"/>
<ellipse cx="1051" cy="429" rx="20.44" ry="20.36" fill="none" stroke="#0000ff" stroke-width="3"/>
<ellipse cx="1051" cy="429" rx="12.78" ry="12.72" fill="none" stroke="#008000" stroke-width="3"/>
<text transform="translate(1019.63 413) scale(0.87 1)" x="0 9.94" y="0" font-size="17" text-anchor="middle" fill="#000">73</text>
<use href="#g6" transform="translate(1103.5 465) scale(17.3)"/>
<use href="#g9" transform="translate(1112.15 465) scale(17.3)"/>
<text transform="translate(1039.13 432.9) scale(0.87 1)" x="0" y="0" font-size="17" text-anchor="middle" fill="#000">4</text>
<use href="#g9" transform="translate(1044.15 432.9) scale(17.3)"/>
<text transform="translate(1087.63 434.9) scale(0.87 1)" x="0" y="0" font-size="17" text-anchor="middle" fill="#000">5</text>
<use href="#g9" transform="translate(1092.65 434.9) scale(17.3)"/>
<text transform="translate(1069.03 435.3) scale(0.87 1)" x="0 9.94" y="0" font-size="17" text-anchor="middle" fill="#000">52</text>
<text transform="translate(1070.13 422.9) scale(0.87 1)" x="0 9.94" y="0" font-size="17" text-anchor="middle" fill="#000">47</text>
<text transform="translate(1091.23 421.3) scale(0.87 1)" x="0 9.94" y="0" font-size="17" text-anchor="middle" fill="#000">55</text>
<text transform="translate(1058.93 413.8) scale(0.87 1)" x="0 9.94" y="0" font-size="17" text-anchor="middle" fill="#000">57</text>
<use href="#g6" transform="translate(1045 399.8) scale(17.3)"/>
<text transform="translate(1057.28 399.8) scale(0.87 1)" x="0" y="0" font-size="17" text-anchor="middle" fill="#000">7</text>
<text transform="translate(1061.83 393.5) scale(0.87 1)" x="0 9.94" y="0" font-size="17" text-anchor="middle" fill="#000">48</text>
<text transform="translate(1077.63 393.5) scale(0.87 1)" x="0" y="0" font-size="17" text-anchor="middle" fill="#000">5</text>
<use href="#g6" transform="translate(1082.65 393.5) scale(17.3)"/>
<text transform="translate(1083.63 380.5) scale(0.87 1)" x="0" y="0" font-size="17" text-anchor="middle" fill="#000">5</text>
<use href="#g9" transform="translate(1088.65 380.5) scale(17.3)"/>
<text transform="translate(1106.63 376.5) scale(0.87 1)" x="0 9.94" y="0" font-size="17" text-anchor="middle" fill="#000">75</text>
<use href="#g6" transform="translate(1083 393.5) scale(17.3)"/>
<text transform="translate(1095.28 393.5) scale(0.87 1)" x="0" y="0" font-size="17" text-anchor="middle" fill="#000">8</text>
<text transform="translate(1066.33 401.5) scale(0.87 1)" x="0" y="0" font-size="17" text-anchor="middle" fill="#000">2</text>
<use href="#g9" transform="translate(1071.35 401.5) scale(17.3)"/>
<text transform="translate(1091.63 385.5) scale(0.87 1)" x="0" y="0" font-size="17" text-anchor="middle" fill="#000">7</text>
<use href="#g1" transform="translate(1096 385.5) scale(0.00722 -0.00830)" fill="#000"/>
<text transform="translate(1096.63 385.5) scale(0.87 1)" x="0 9.94" y="0" font-size="17" text-anchor="middle" fill="#000">78</text>
<text transform="translate(1101.63 385.5) scale(0.87 1)" x="0" y="0" font-size="17" text-anchor="middle" fill="#000">7</text>
<use href="#g9" transform="translate(1106.65 385.5) scale(17.3)"/>
<text transform="translate(1106.63 385.5) scale(0.87 1)" x="0" y="0" font-size="17" text-anchor="middle" fill="#000">2</text>
<use href="#g9" transform="translate(1111.65 385.5) scale(17.3)"/>
<text transform="translate(1091.63 390.5) scale(0.87 1)" x="0 9.94" y="0" font-size="17" text-anchor="middle" fill="#000">40</text>
<text transform="translate(1096.63 390.5) scale(0.87 1)" x="0" y="0" font-size="17" text-anchor="middle" fill="#000">4</text>
<use href="#g1" transform="translate(1101 390.5) scale(0.00722 -0.00830)" fill="#000"/>
<text transform="translate(1101.63 390.5) scale(0.87 1)" x="0 9.94" y="0" font-size="17" text-anchor="middle" fill="#000">42</text>
<text transform="translate(1106.63 390.5) scale(0.87 1)" x="0 9.94" y="0" font-size="17" text-anchor="middle" fill="#000">43</text>
<text transform="translate(1091.63 395.5) scale(0.87 1)" x="0 9.94" y="0" font-size="17" text-anchor="middle" fill="#000">44</text>
<text transform="translate(1096.63 395.5) scale(0.87 1)" x="0" y="0" font-size="17" text-anchor="middle" fill="#000">4</text>
<use href="#g6" transform="translate(1101.65 395.5) scale(17.3)"/>
<text transform="translate(1101.63 395.5) scale(0.87 1)" x="0 9.94" y="0" font-size="17" text-anchor="middle" fill="#000">50</text>
<text transform="translate(1106.63 395.5) scale(0.87 1)" x="0" y="0" font-size="17" text-anchor="middle" fill="#000">5</text>
<use href="#g1" transform="translate(1111 395.5) scale(0.00722 -0.00830)" fill="#000"/>
<text transform="translate(1091.63 400.5) scale(0.87 1)" x="0 9.94" y="0" font-size="17" text-anchor="middle" fill="#000">53</text>
<text transform="translate(1096.63 400.5) scale(0.87 1)" x="0" y="0" font-size="17" text-anchor="middle" fill="#000">5</text>
<use href="#g6" transform="translate(1101.65 400.5) scale(17.3)"/>
<use href="#g6" transform="translate(1098 400.5) scale(17.3)"/>
<use href="#g1" transform="translate(1106 400.5) scale(0.00722 -0.00830)" fill="#000"/>
<use href="#g6" transform="translate(1103 400.5) scale(17.3)"/>
<text transform="translate(1115.28 400.5) scale(0.87 1)" x="0" y="0" font-size="17" text-anchor="middle" fill="#000">2</text>
<use href="#g6" transform="translate(1063 407.5) scale(17.3)"/>
<text transform="translate(1075.28 407.5) scale(0.87 1)" x="0" y="0" font-size="17" text-anchor="middle" fill="#000">3</text>
<use href="#g6" transform="translate(1068 407.5) scale(17.3)"/>
<text transform="translate(1080.28 407.5) scale(0.87 1)" x="0" y="0" font-size="17" text-anchor="middle" fill="#000">4</text>
<use href="#g6" transform="translate(1074 407.5) scale(17.3)"/>
<text transform="translate(1086.28 407.5) scale(0.87 1)" x="0" y="0" font-size="17" text-anchor="middle" fill="#000">5</text>
<text transform="translate(1066.63 412.5) scale(0.87 1)" x="0 9.94" y="0" font-size="17" text-anchor="middle" fill="#000">70</text>
<text transform="translate(1071.63 412.5) scale(0.87 1)" x="0 9.94" y="0" font-size="17" text-anchor="middle" fill="#000">72</text>
<text transform="translate(1077.63 412.5) scale(0.87 1)" x="0 9.94" y="0" font-size="17" text-anchor="middle" fill="#000">74</text>
<text transform="translate(1066.63 416.5) scale(0.87 1)" x="0 9.94" y="0" font-size="17" text-anchor="middle" fill="#000">75</text>
<text transform="translate(1071.63 416.5) scale(0.87 1)" x="0 9.94" y="0" font-size="17" text-anchor="middle" fill="#000">77</text>
<text transform="translate(1077.63 416.5) scale(0.87 1)" x="0" y="0" font-size="17" text-anchor="middle" fill="#000">3</text>
<use href="#g9" transform="translate(1082.65 416.5) scale(17.3)"/>
<text transform="translate(1109.13 405.8) scale(0.87 1)" x="0 9.94" y="0" font-size="17" text-anchor="middle" fill="#000">45</text>
<text transform="translate(1095.13 402.1) scale(0.87 1)" x="0 9.94" y="0" font-size="17" text-anchor="middle" fill="#000">52</text>
<text transform="translate(1082.63 382) scale(0.87 1)" x="0 9.94" y="0" font-size="17" text-anchor="middle" fill="#000">57</text>
<use href="#g6" transform="translate(1111.3 364.5) scale(17.3)"/>
<text transform="translate(1123.58 364.5) scale(0.87 1)" x="0" y="0" font-size="17" text-anchor="middle" fill="#000">0</text>
<rect x="795.5" y="175.5" width="511" height="509" fill="none" stroke="#000" stroke-width="1.4"/>
<path d="M795.5 684.5 v6.1 M795.5 684.5 h-6.1 M859.38 684.5 v6.1 M795.5 620.88 h-6.1 M923.25 684.5 v6.1 M795.5 557.25 h-6.1 M987.12 684.5 v6.1 M795.5 493.62 h-6.1 M1051 684.5 v6.1 M795.5 430 h-6.1 M1114.88 684.5 v6.1 M795.5 366.38 h-6.1 M1178.75 684.5 v6.1 M795.5 302.75 h-6.1 M1242.62 684.5 v6.1 M795.5 239.12 h-6.1 M1306.5 684.5 v6.1 M795.5 175.5 h-6.1" stroke="#000" stroke-width="1.4" fill="none"/>
<rect x="773.92" y="700.95" width="7.79" height="1.25" fill="#000"/>
<use href="#g1" transform="translate(781.62 707.8) scale(0.00714 -0.00820)" fill="#000"/>
<text transform="translate(794.51 707.8) scale(0.87 1)" x="0" y="0" font-size="16.8" text-anchor="middle" fill="#000">0</text>
<text x="801.25" y="707.8" font-size="16.8" text-anchor="middle" fill="#000">.</text>
<text transform="translate(811.81 707.8) scale(0.87 1)" x="0" y="0" font-size="16.8" text-anchor="middle" fill="#000">0</text>
<rect x="740.3" y="683.45" width="7.79" height="1.25" fill="#000"/>
<use href="#g1" transform="translate(748 690.3) scale(0.00714 -0.00820)" fill="#000"/>
<text transform="translate(760.88 690.3) scale(0.87 1)" x="0" y="0" font-size="16.8" text-anchor="middle" fill="#000">0</text>
<text x="767.63" y="690.3" font-size="16.8" text-anchor="middle" fill="#000">.</text>
<text transform="translate(778.18 690.3) scale(0.87 1)" x="0" y="0" font-size="16.8" text-anchor="middle" fill="#000">0</text>
<rect x="842.12" y="700.95" width="7.79" height="1.25" fill="#000"/>
<text transform="translate(854.06 707.8) scale(0.87 1)" x="0" y="0" font-size="16.8" text-anchor="middle" fill="#000">7</text>
<text x="860.81" y="707.8" font-size="16.8" text-anchor="middle" fill="#000">.</text>
<text transform="translate(871.36 707.8) scale(0.87 1)" x="0" y="0" font-size="16.8" text-anchor="middle" fill="#000">5</text>
<rect x="748.95" y="619.82" width="7.79" height="1.25" fill="#000"/>
<text transform="translate(760.88 626.67) scale(0.87 1)" x="0" y="0" font-size="16.8" text-anchor="middle" fill="#000">7</text>
<text x="767.63" y="626.67" font-size="16.8" text-anchor="middle" fill="#000">.</text>
<text transform="translate(778.18 626.67) scale(0.87 1)" x="0" y="0" font-size="16.8" text-anchor="middle" fill="#000">5</text>
<rect x="906" y="700.95" width="7.79" height="1.25" fill="#000"/>
<text transform="translate(917.93 707.8) scale(0.87 1)" x="0" y="0" font-size="16.8" text-anchor="middle" fill="#000">5</text>
<text x="924.68" y="707.8" font-size="16.8" text-anchor="middle" fill="#000">.</text>
<text transform="translate(935.23 707.8) scale(0.87 1)" x="0" y="0" font-size="16.8" text-anchor="middle" fill="#000">0</text>
<rect x="748.95" y="556.2" width="7.79" height="1.25" fill="#000"/>
<text transform="translate(760.88 563.05) scale(0.87 1)" x="0" y="0" font-size="16.8" text-anchor="middle" fill="#000">5</text>
<text x="767.63" y="563.05" font-size="16.8" text-anchor="middle" fill="#000">.</text>
<text transform="translate(778.18 563.05) scale(0.87 1)" x="0" y="0" font-size="16.8" text-anchor="middle" fill="#000">0</text>
<rect x="969.87" y="700.95" width="7.79" height="1.25" fill="#000"/>
<text transform="translate(981.81 707.8) scale(0.87 1)" x="0" y="0" font-size="16.8" text-anchor="middle" fill="#000">2</text>
<text x="988.56" y="707.8" font-size="16.8" text-anchor="middle" fill="#000">.</text>
<text transform="translate(999.11 707.8) scale(0.87 1)" x="0" y="0" font-size="16.8" text-anchor="middle" fill="#000">5</text>
<rect x="748.95" y="492.57" width="7.79" height="1.25" fill="#000"/>
<text transform="translate(760.88 499.43) scale(0.87 1)" x="0" y="0" font-size="16.8" text-anchor="middle" fill="#000">2</text>
<text x="767.63" y="499.43" font-size="16.8" text-anchor="middle" fill="#000">.</text>
<text transform="translate(778.18 499.43) scale(0.87 1)" x="0" y="0" font-size="16.8" text-anchor="middle" fill="#000">5</text>
<text transform="translate(1041.36 707.8) scale(0.87 1)" x="0" y="0" font-size="16.8" text-anchor="middle" fill="#000">0</text>
<text x="1048.11" y="707.8" font-size="16.8" text-anchor="middle" fill="#000">.</text>
<text transform="translate(1058.66 707.8) scale(0.87 1)" x="0" y="0" font-size="16.8" text-anchor="middle" fill="#000">0</text>
<text transform="translate(760.88 435.8) scale(0.87 1)" x="0" y="0" font-size="16.8" text-anchor="middle" fill="#000">0</text>
<text x="767.63" y="435.8" font-size="16.8" text-anchor="middle" fill="#000">.</text>
<text transform="translate(778.18 435.8) scale(0.87 1)" x="0" y="0" font-size="16.8" text-anchor="middle" fill="#000">0</text>
<text transform="translate(1105.23 707.8) scale(0.87 1)" x="0" y="0" font-size="16.8" text-anchor="middle" fill="#000">2</text>
<text x="1111.98" y="707.8" font-size="16.8" text-anchor="middle" fill="#000">.</text>
<text transform="translate(1122.53 707.8) scale(0.87 1)" x="0" y="0" font-size="16.8" text-anchor="middle" fill="#000">5</text>
<text transform="translate(760.88 372.18) scale(0.87 1)" x="0" y="0" font-size="16.8" text-anchor="middle" fill="#000">2</text>
<text x="767.63" y="372.18" font-size="16.8" text-anchor="middle" fill="#000">.</text>
<text transform="translate(778.18 372.18) scale(0.87 1)" x="0" y="0" font-size="16.8" text-anchor="middle" fill="#000">5</text>
<text transform="translate(1169.11 707.8) scale(0.87 1)" x="0" y="0" font-size="16.8" text-anchor="middle" fill="#000">5</text>
<text x="1175.86" y="707.8" font-size="16.8" text-anchor="middle" fill="#000">.</text>
<text transform="translate(1186.41 707.8) scale(0.87 1)" x="0" y="0" font-size="16.8" text-anchor="middle" fill="#000">0</text>
<text transform="translate(760.88 308.55) scale(0.87 1)" x="0" y="0" font-size="16.8" text-anchor="middle" fill="#000">5</text>
<text x="767.63" y="308.55" font-size="16.8" text-anchor="middle" fill="#000">.</text>
<text transform="translate(778.18 308.55) scale(0.87 1)" x="0" y="0" font-size="16.8" text-anchor="middle" fill="#000">0</text>
<text transform="translate(1232.98 707.8) scale(0.87 1)" x="0" y="0" font-size="16.8" text-anchor="middle" fill="#000">7</text>
<text x="1239.73" y="707.8" font-size="16.8" text-anchor="middle" fill="#000">.</text>
<text transform="translate(1250.28 707.8) scale(0.87 1)" x="0" y="0" font-size="16.8" text-anchor="middle" fill="#000">5</text>
<text transform="translate(760.88 244.93) scale(0.87 1)" x="0" y="0" font-size="16.8" text-anchor="middle" fill="#000">7</text>
<text x="767.63" y="244.93" font-size="16.8" text-anchor="middle" fill="#000">.</text>
<text transform="translate(778.18 244.93) scale(0.87 1)" x="0" y="0" font-size="16.8" text-anchor="middle" fill="#000">5</text>
<use href="#g1" transform="translate(1288.3 707.8) scale(0.00714 -0.00820)" fill="#000"/>
<text transform="translate(1301.18 707.8) scale(0.87 1)" x="0" y="0" font-size="16.8" text-anchor="middle" fill="#000">0</text>
<text x="1307.93" y="707.8" font-size="16.8" text-anchor="middle" fill="#000">.</text>
<text transform="translate(1318.48 707.8) scale(0.87 1)" x="0" y="0" font-size="16.8" text-anchor="middle" fill="#000">0</text>
<use href="#g1" transform="translate(748 181.3) scale(0.00714 -0.00820)" fill="#000"/>
<text transform="translate(760.88 181.3) scale(0.87 1)" x="0" y="0" font-size="16.8" text-anchor="middle" fill="#000">0</text>
<text x="767.63" y="181.3" font-size="16.8" text-anchor="middle" fill="#000">.</text>
<text transform="translate(778.18 181.3) scale(0.87 1)" x="0" y="0" font-size="16.8" text-anchor="middle" fill="#000">0</text>
<use href="#g1" transform="translate(890.15 164.9) scale(0.00901 -0.01035)" fill="#000"/>
<use href="#g1" transform="translate(900.6 164.9) scale(0.00901 -0.01035)" fill="#000"/>
<text x="914.09" y="164.9" font-size="21.2" text-anchor="middle" fill="#000">.</text>
<use href="#g1" transform="translate(921.5 164.9) scale(0.00901 -0.01035)" fill="#000"/>
<text transform="translate(937.29 164.9) scale(0.87 1)" x="0" y="0" font-size="21.2" text-anchor="middle" fill="#000">0</text>
<text x="945.44" y="164.9" font-size="21.2" text-anchor="middle" fill="#000">.</text>
<use href="#g1" transform="translate(952.85 164.9) scale(0.00901 -0.01035)" fill="#000"/>
<rect x="964.67" y="156.62" width="9.4" height="1.5" fill="#000"/>
<text transform="translate(979.93 164.9) scale(0.76 1)" x="0" y="0" font-size="21.2" text-anchor="middle" fill="#000">D</text>
<text transform="translate(990.38 164.9) scale(0.85 1)" x="0 12.29" y="0" font-size="21.2" text-anchor="middle" fill="#000">ie</text>
<text transform="translate(1010.44 164.9) scale(0.87 1)" x="0" y="0" font-size="21.2" text-anchor="middle" fill="#000">4</text>
<text transform="translate(1032.18 164.9) scale(0.76 1)" x="0" y="0" font-size="21.2" text-anchor="middle" fill="#000">D</text>
<text transform="translate(1042.63 164.9) scale(0.85 1)" x="0 12.29" y="0" font-size="21.2" text-anchor="middle" fill="#000">ie</text>
<text transform="translate(1062.69 164.9) scale(0.87 1)" x="0" y="0" font-size="21.2" text-anchor="middle" fill="#000">4</text>
<text transform="translate(1084.43 164.9) scale(0.68 1)" x="0" y="0" font-size="21.2" text-anchor="middle" fill="#000">M</text>
<text transform="translate(1094.88 164.9) scale(0.85 1)" x="0 12.29 24.59" y="0" font-size="21.2" text-anchor="middle" fill="#000">ark</text>
<use href="#g1" transform="translate(1120.05 164.9) scale(0.00901 -0.01035)" fill="#000"/>
<text x="1142.5" y="164.9" font-size="21.2">3</text>
<text x="1154.5" y="164.9" font-size="21.5" font-style="italic">σ</text>
<path d="M1176.33 148.94 L1174.53 152.04 L1172.46 154.63 L1170.65 156.95 M1180.73 148.17 L1182.28 151.27 L1184.86 154.11 L1187.45 156.18 M1174.01 157.57 L1183.83 157.57 L1183.57 164.71 L1183.05 166 L1179.69 165.74 M1177.88 157.99 L1176.85 161.6 L1174.53 164.71 L1171.17 166.51 M1189.51 151.27 L1207.6 151.27 M1198.3 147.91 L1195.71 152.56 L1192.61 156.44 L1189.77 159.54 M1194.16 156.7 L1194.16 164.45 M1194.16 156.7 L1205.79 156.7 L1205.53 163.41 L1205.02 164.19 L1202.85 163.93 M1199.59 152.82 L1199.59 166.51" fill="none" stroke="#000" stroke-width="1.6" stroke-linecap="square" stroke-linejoin="miter"/>
<rect x="1159" y="183" width="137.85" height="158" rx="3.5" ry="3.5" fill="#fff" fill-opacity="0.8" stroke="#cccccc" stroke-opacity="0.8" stroke-width="1.7"/>
<path d="M1166.6 199.4 H1200.45" stroke="#ff0000" stroke-width="3" stroke-linecap="square"/>
<path d="M1166.6 224.5 H1200.45" stroke="#0000ff" stroke-width="3" stroke-linecap="square"/>
<path d="M1166.6 249.5 H1200.45" stroke="#008000" stroke-width="3" stroke-linecap="square"/>
<path d="M1166.6 281.1 H1200.45 V268.9 H1166.6 Z" fill="none" stroke="#a52a2a" stroke-width="3"/>
<path d="M1166.6 306.7 H1200.45 V294.5 H1166.6 Z" fill="none" stroke="#ff00ff" stroke-width="3" stroke-dasharray="12.85 5.55"/>
<path d="M1166.6 332.3 H1200.45 V320.1 H1166.6 Z" fill="none" stroke="#ffa500" stroke-width="3" stroke-dasharray="22.2 5.6 3.5 5.6"/>
<text x="1215.35" y="204.7" font-size="18.1">3</text>
<text x="1225.85" y="204.7" font-size="18.4" font-style="italic">σ</text>
<use href="#g1" transform="translate(1244.6 204.7) scale(0.00714 -0.00820)" fill="#000"/>
<text transform="translate(1258.17 204.7) scale(0.85 1)" x="0" y="0" font-size="16.8" text-anchor="middle" fill="#000">u</text>
<text transform="translate(1266.83 204.7) scale(0.7 1)" x="0" y="0" font-size="16.8" text-anchor="middle" fill="#000">m</text>
<text x="1215.35" y="229.8" font-size="18.1">2</text>
<text x="1225.85" y="229.8" font-size="18.4" font-style="italic">σ</text>
<text transform="translate(1248.83 229.8) scale(0.87 1)" x="0" y="0" font-size="16.8" text-anchor="middle" fill="#000">0</text>
<text x="1255.58" y="229.8" font-size="16.8" text-anchor="middle" fill="#000">.</text>
<text transform="translate(1266.13 229.8) scale(0.87 1)" x="0" y="0" font-size="16.8" text-anchor="middle" fill="#000">8</text>
<text transform="translate(1275.48 229.8) scale(0.85 1)" x="0" y="0" font-size="16.8" text-anchor="middle" fill="#000">u</text>
<text transform="translate(1284.13 229.8) scale(0.7 1)" x="0" y="0" font-size="16.8" text-anchor="middle" fill="#000">m</text>
<text x="1215.35" y="254.8" font-size="18.1">1</text>
<text x="1225.85" y="254.8" font-size="18.4" font-style="italic">σ</text>
<text transform="translate(1248.83 254.8) scale(0.87 1)" x="0" y="0" font-size="16.8" text-anchor="middle" fill="#000">0</text>
<text x="1255.58" y="254.8" font-size="16.8" text-anchor="middle" fill="#000">.</text>
<text transform="translate(1266.13 254.8) scale(0.87 1)" x="0" y="0" font-size="16.8" text-anchor="middle" fill="#000">5</text>
<text transform="translate(1275.48 254.8) scale(0.85 1)" x="0" y="0" font-size="16.8" text-anchor="middle" fill="#000">u</text>
<text transform="translate(1284.13 254.8) scale(0.7 1)" x="0" y="0" font-size="16.8" text-anchor="middle" fill="#000">m</text>
<text x="1215.35" y="280.3" font-size="18.1">1</text>
<text x="1225.85" y="280.3" font-size="18.4" font-style="italic">σ</text>
<text x="1215.35" y="305.9" font-size="18.1">2</text>
<text x="1225.85" y="305.9" font-size="18.4" font-style="italic">σ</text>
<text x="1215.35" y="331.5" font-size="18.1">3</text>
<text x="1225.85" y="331.5" font-size="18.4" font-style="italic">σ</text>
<g fill="none" stroke-width="3.1" transform="translate(404.5 1064) rotate(133.3)">
<path d="M0 -16.77 A25.3 16.77 0 0 0 -25.3 0 A25.3 16.77 0 0 0 0 16.77 A25.3 16.77 0 0 0 25.3 0 A25.3 16.77 0 0 0 0 -16.77" stroke="#a52a2a"/>
<path d="M0 -33.53 A50.6 33.53 0 0 0 -50.6 0 A50.6 33.53 0 0 0 0 33.53 A50.6 33.53 0 0 0 50.6 0 A50.6 33.53 0 0 0 0 -33.53" stroke="#ff00ff" stroke-dasharray="12.85 5.55"/>
<path d="M0 -50.3 A75.9 50.3 0 0 0 -75.9 0 A75.9 50.3 0 0 0 0 50.3 A75.9 50.3 0 0 0 75.9 0 A75.9 50.3 0 0 0 0 -50.3" stroke="#ffa500" stroke-dasharray="22.2 5.6 3.5 5.6"/>
</g>
<circle cx="441.5" cy="1020" r="2.35" fill="#1f77b4"/>
<circle cx="406.5" cy="1024.5" r="2.35" fill="#1f77b4"/>
<circle cx="413" cy="1024" r="2.35" fill="#1f77b4"/>
<circle cx="436.4" cy="1036.5" r="2.35" fill="#1f77b4"/>
<circle cx="358.5" cy="1054" r="2.35" fill="#1f77b4"/>
<circle cx="345.5" cy="1070.5" r="2.35" fill="#1f77b4"/>
<circle cx="364" cy="1104.5" r="2.35" fill="#1f77b4"/>
<circle cx="422.5" cy="1125.5" r="2.35" fill="#1f77b4"/>
<circle cx="373.5" cy="1061.5" r="2.35" fill="#1f77b4"/>
<circle cx="382.5" cy="1056" r="2.35" fill="#1f77b4"/>
<circle cx="401.6" cy="1053" r="2.35" fill="#1f77b4"/>
<circle cx="375.5" cy="1078.5" r="2.35" fill="#1f77b4"/>
<circle cx="380" cy="1078.5" r="2.35" fill="#1f77b4"/>
<circle cx="388.5" cy="1093.5" r="2.35" fill="#1f77b4"/>
<circle cx="394" cy="1090" r="2.35" fill="#1f77b4"/>
<circle cx="409" cy="1091.5" r="2.35" fill="#1f77b4"/>
<circle cx="412" cy="1091" r="2.35" fill="#1f77b4"/>
<circle cx="393" cy="1069.5" r="2.35" fill="#1f77b4"/>
<circle cx="402" cy="1079" r="2.35" fill="#1f77b4"/>
<circle cx="406" cy="1077" r="2.35" fill="#1f77b4"/>
<circle cx="417.7" cy="1038.6" r="2.35" fill="#1f77b4"/>
<circle cx="417" cy="1040" r="2.35" fill="#1f77b4"/>
<circle cx="422" cy="1040" r="2.35" fill="#1f77b4"/>
<circle cx="427" cy="1040" r="2.35" fill="#1f77b4"/>
<circle cx="417" cy="1044" r="2.35" fill="#1f77b4"/>
<circle cx="422" cy="1044" r="2.35" fill="#1f77b4"/>
<circle cx="427" cy="1044" r="2.35" fill="#1f77b4"/>
<circle cx="414" cy="1053" r="2.35" fill="#1f77b4"/>
<circle cx="418" cy="1053" r="2.35" fill="#1f77b4"/>
<circle cx="422" cy="1053" r="2.35" fill="#1f77b4"/>
<circle cx="414" cy="1058" r="2.35" fill="#1f77b4"/>
<circle cx="418" cy="1058" r="2.35" fill="#1f77b4"/>
<circle cx="422" cy="1058" r="2.35" fill="#1f77b4"/>
<circle cx="414" cy="1063" r="2.35" fill="#1f77b4"/>
<circle cx="419" cy="1063" r="2.35" fill="#1f77b4"/>
<circle cx="424" cy="1063" r="2.35" fill="#1f77b4"/>
<circle cx="419" cy="1067" r="2.35" fill="#1f77b4"/>
<circle cx="400" cy="1066" r="2.35" fill="#1f77b4"/>
<circle cx="405" cy="1070" r="2.35" fill="#1f77b4"/>
<circle cx="409" cy="1072" r="2.35" fill="#1f77b4"/>
<circle cx="404" cy="1062" r="2.35" fill="#1f77b4"/>
<circle cx="410" cy="1062" r="2.35" fill="#1f77b4"/>
<circle cx="405.8" cy="1057.2" r="2.35" fill="#1f77b4"/>
<circle cx="427.7" cy="1068.4" r="2.35" fill="#1f77b4"/>
<path d="M181.5 1040 H693.5 M437 786.5 V1295.5" stroke="#808080" stroke-width="1.75" fill="none"/>
<ellipse cx="437" cy="1040" rx="25.6" ry="25.45" fill="none" stroke="#ff0000" stroke-width="3"/>
<ellipse cx="437" cy="1040" rx="20.48" ry="20.36" fill="none" stroke="#0000ff" stroke-width="3"/>
<ellipse cx="437" cy="1040" rx="12.8" ry="12.72" fill="none" stroke="#008000" stroke-width="3"/>
<use href="#g6" transform="translate(441.5 1019.5) scale(17.3)"/>
<text transform="translate(453.78 1019.5) scale(0.87 1)" x="0" y="0" font-size="17" text-anchor="middle" fill="#000">0</text>
<text transform="translate(410.13 1024) scale(0.87 1)" x="0 9.94" y="0" font-size="17" text-anchor="middle" fill="#000">58</text>
<text transform="translate(416.63 1023.5) scale(0.87 1)" x="0 9.94" y="0" font-size="17" text-anchor="middle" fill="#000">54</text>
<text transform="translate(440.03 1036) scale(0.87 1)" x="0" y="0" font-size="17" text-anchor="middle" fill="#000">7</text>
<use href="#g6" transform="translate(445.05 1036) scale(17.3)"/>
<text transform="translate(362.13 1053.5) scale(0.87 1)" x="0" y="0" font-size="17" text-anchor="middle" fill="#000">3</text>
<use href="#g9" transform="translate(367.15 1053.5) scale(17.3)"/>
<text transform="translate(349.13 1070) scale(0.87 1)" x="0 9.94" y="0" font-size="17" text-anchor="middle" fill="#000">73</text>
<text transform="translate(367.63 1104) scale(0.87 1)" x="0" y="0" font-size="17" text-anchor="middle" fill="#000">4</text>
<use href="#g9" transform="translate(372.65 1104) scale(17.3)"/>
<use href="#g6" transform="translate(422.5 1125) scale(17.3)"/>
<use href="#g9" transform="translate(431.15 1125) scale(17.3)"/>
<use href="#g6" transform="translate(373.5 1061) scale(17.3)"/>
<text transform="translate(385.78 1061) scale(0.87 1)" x="0" y="0" font-size="17" text-anchor="middle" fill="#000">7</text>
<text transform="translate(386.13 1055.5) scale(0.87 1)" x="0 9.94" y="0" font-size="17" text-anchor="middle" fill="#000">48</text>
<text transform="translate(405.23 1052.5) scale(0.87 1)" x="0 9.94" y="0" font-size="17" text-anchor="middle" fill="#000">58</text>
<text transform="translate(379.13 1078) scale(0.87 1)" x="0 9.94" y="0" font-size="17" text-anchor="middle" fill="#000">77</text>
<use href="#g6" transform="translate(380 1078) scale(17.3)"/>
<use href="#g1" transform="translate(388 1078) scale(0.00722 -0.00830)" fill="#000"/>
<text transform="translate(392.13 1093) scale(0.87 1)" x="0 9.94" y="0" font-size="17" text-anchor="middle" fill="#000">47</text>
<text transform="translate(397.63 1089.5) scale(0.87 1)" x="0" y="0" font-size="17" text-anchor="middle" fill="#000">7</text>
<use href="#g9" transform="translate(402.65 1089.5) scale(17.3)"/>
<text transform="translate(412.63 1091) scale(0.87 1)" x="0 9.94" y="0" font-size="17" text-anchor="middle" fill="#000">25</text>
<text transform="translate(415.63 1090.5) scale(0.87 1)" x="0" y="0" font-size="17" text-anchor="middle" fill="#000">5</text>
<use href="#g9" transform="translate(420.65 1090.5) scale(17.3)"/>
<text transform="translate(396.63 1069) scale(0.87 1)" x="0 9.94" y="0" font-size="17" text-anchor="middle" fill="#000">44</text>
<text transform="translate(405.63 1078.5) scale(0.87 1)" x="0 9.94" y="0" font-size="17" text-anchor="middle" fill="#000">53</text>
<text transform="translate(409.63 1076.5) scale(0.87 1)" x="0" y="0" font-size="17" text-anchor="middle" fill="#000">5</text>
<use href="#g6" transform="translate(414.65 1076.5) scale(17.3)"/>
<text transform="translate(421.33 1038.1) scale(0.87 1)" x="0" y="0" font-size="17" text-anchor="middle" fill="#000">4</text>
<use href="#g6" transform="translate(426.35 1038.1) scale(17.3)"/>
<text transform="translate(420.63 1039.5) scale(0.87 1)" x="0 9.94" y="0" font-size="17" text-anchor="middle" fill="#000">58</text>
<use href="#g6" transform="translate(422 1039.5) scale(17.3)"/>
<use href="#g6" transform="translate(430.65 1039.5) scale(17.3)"/>
<use href="#g6" transform="translate(427 1039.5) scale(17.3)"/>
<text transform="translate(439.28 1039.5) scale(0.87 1)" x="0" y="0" font-size="17" text-anchor="middle" fill="#000">8</text>
<text transform="translate(420.63 1043.5) scale(0.87 1)" x="0" y="0" font-size="17" text-anchor="middle" fill="#000">7</text>
<use href="#g1" transform="translate(425 1043.5) scale(0.00722 -0.00830)" fill="#000"/>
<text transform="translate(425.63 1043.5) scale(0.87 1)" x="0 9.94" y="0" font-size="17" text-anchor="middle" fill="#000">78</text>
<text transform="translate(430.63 1043.5) scale(0.87 1)" x="0" y="0" font-size="17" text-anchor="middle" fill="#000">7</text>
<use href="#g9" transform="translate(435.65 1043.5) scale(17.3)"/>
<text transform="translate(417.63 1052.5) scale(0.87 1)" x="0" y="0" font-size="17" text-anchor="middle" fill="#000">2</text>
<use href="#g9" transform="translate(422.65 1052.5) scale(17.3)"/>
<text transform="translate(421.63 1052.5) scale(0.87 1)" x="0 9.94" y="0" font-size="17" text-anchor="middle" fill="#000">40</text>
<text transform="translate(425.63 1052.5) scale(0.87 1)" x="0" y="0" font-size="17" text-anchor="middle" fill="#000">4</text>
<use href="#g1" transform="translate(430 1052.5) scale(0.00722 -0.00830)" fill="#000"/>
<text transform="translate(417.63 1057.5) scale(0.87 1)" x="0 9.94" y="0" font-size="17" text-anchor="middle" fill="#000">42</text>
<text transform="translate(421.63 1057.5) scale(0.87 1)" x="0 9.94" y="0" font-size="17" text-anchor="middle" fill="#000">43</text>
<text transform="translate(425.63 1057.5) scale(0.87 1)" x="0 9.94" y="0" font-size="17" text-anchor="middle" fill="#000">44</text>
<text transform="translate(417.63 1062.5) scale(0.87 1)" x="0" y="0" font-size="17" text-anchor="middle" fill="#000">4</text>
<use href="#g6" transform="translate(422.65 1062.5) scale(17.3)"/>
<text transform="translate(422.63 1062.5) scale(0.87 1)" x="0 9.94" y="0" font-size="17" text-anchor="middle" fill="#000">50</text>
<text transform="translate(427.63 1062.5) scale(0.87 1)" x="0" y="0" font-size="17" text-anchor="middle" fill="#000">5</text>
<use href="#g1" transform="translate(432 1062.5) scale(0.00722 -0.00830)" fill="#000"/>
<text transform="translate(422.63 1066.5) scale(0.87 1)" x="0 9.94" y="0" font-size="17" text-anchor="middle" fill="#000">53</text>
<text transform="translate(403.63 1065.5) scale(0.87 1)" x="0" y="0" font-size="17" text-anchor="middle" fill="#000">5</text>
<use href="#g6" transform="translate(408.65 1065.5) scale(17.3)"/>
<use href="#g6" transform="translate(405 1069.5) scale(17.3)"/>
<use href="#g1" transform="translate(413 1069.5) scale(0.00722 -0.00830)" fill="#000"/>
<use href="#g6" transform="translate(409 1071.5) scale(17.3)"/>
<text transform="translate(421.28 1071.5) scale(0.87 1)" x="0" y="0" font-size="17" text-anchor="middle" fill="#000">2</text>
<use href="#g6" transform="translate(404 1061.5) scale(17.3)"/>
<text transform="translate(416.28 1061.5) scale(0.87 1)" x="0" y="0" font-size="17" text-anchor="middle" fill="#000">3</text>
<use href="#g6" transform="translate(410 1061.5) scale(17.3)"/>
<text transform="translate(422.28 1061.5) scale(0.87 1)" x="0" y="0" font-size="17" text-anchor="middle" fill="#000">4</text>
<use href="#g6" transform="translate(405.8 1056.7) scale(17.3)"/>
<text transform="translate(418.08 1056.7) scale(0.87 1)" x="0" y="0" font-size="17" text-anchor="middle" fill="#000">5</text>
<text transform="translate(431.33 1067.9) scale(0.87 1)" x="0 9.94" y="0" font-size="17" text-anchor="middle" fill="#000">45</text>
<rect x="181.5" y="786.5" width="512" height="509" fill="none" stroke="#000" stroke-width="1.4"/>
<path d="M181.5 1295.5 v6.1 M181.5 1295.5 h-6.1 M245.5 1295.5 v6.1 M181.5 1231.88 h-6.1 M309.5 1295.5 v6.1 M181.5 1168.25 h-6.1 M373.5 1295.5 v6.1 M181.5 1104.62 h-6.1 M437.5 1295.5 v6.1 M181.5 1041 h-6.1 M501.5 1295.5 v6.1 M181.5 977.38 h-6.1 M565.5 1295.5 v6.1 M181.5 913.75 h-6.1 M629.5 1295.5 v6.1 M181.5 850.12 h-6.1 M693.5 1295.5 v6.1 M181.5 786.5 h-6.1" stroke="#000" stroke-width="1.4" fill="none"/>
<rect x="159.92" y="1311.95" width="7.79" height="1.25" fill="#000"/>
<use href="#g1" transform="translate(167.62 1318.8) scale(0.00714 -0.00820)" fill="#000"/>
<text transform="translate(180.51 1318.8) scale(0.87 1)" x="0" y="0" font-size="16.8" text-anchor="middle" fill="#000">0</text>
<text x="187.25" y="1318.8" font-size="16.8" text-anchor="middle" fill="#000">.</text>
<text transform="translate(197.81 1318.8) scale(0.87 1)" x="0" y="0" font-size="16.8" text-anchor="middle" fill="#000">0</text>
<rect x="126.3" y="1294.45" width="7.79" height="1.25" fill="#000"/>
<use href="#g1" transform="translate(134 1301.3) scale(0.00714 -0.00820)" fill="#000"/>
<text transform="translate(146.88 1301.3) scale(0.87 1)" x="0" y="0" font-size="16.8" text-anchor="middle" fill="#000">0</text>
<text x="153.63" y="1301.3" font-size="16.8" text-anchor="middle" fill="#000">.</text>
<text transform="translate(164.18 1301.3) scale(0.87 1)" x="0" y="0" font-size="16.8" text-anchor="middle" fill="#000">0</text>
<rect x="228.25" y="1311.95" width="7.79" height="1.25" fill="#000"/>
<text transform="translate(240.18 1318.8) scale(0.87 1)" x="0" y="0" font-size="16.8" text-anchor="middle" fill="#000">7</text>
<text x="246.93" y="1318.8" font-size="16.8" text-anchor="middle" fill="#000">.</text>
<text transform="translate(257.48 1318.8) scale(0.87 1)" x="0" y="0" font-size="16.8" text-anchor="middle" fill="#000">5</text>
<rect x="134.95" y="1230.82" width="7.79" height="1.25" fill="#000"/>
<text transform="translate(146.88 1237.67) scale(0.87 1)" x="0" y="0" font-size="16.8" text-anchor="middle" fill="#000">7</text>
<text x="153.63" y="1237.67" font-size="16.8" text-anchor="middle" fill="#000">.</text>
<text transform="translate(164.18 1237.67) scale(0.87 1)" x="0" y="0" font-size="16.8" text-anchor="middle" fill="#000">5</text>
<rect x="292.25" y="1311.95" width="7.79" height="1.25" fill="#000"/>
<text transform="translate(304.18 1318.8) scale(0.87 1)" x="0" y="0" font-size="16.8" text-anchor="middle" fill="#000">5</text>
<text x="310.93" y="1318.8" font-size="16.8" text-anchor="middle" fill="#000">.</text>
<text transform="translate(321.48 1318.8) scale(0.87 1)" x="0" y="0" font-size="16.8" text-anchor="middle" fill="#000">0</text>
<rect x="134.95" y="1167.2" width="7.79" height="1.25" fill="#000"/>
<text transform="translate(146.88 1174.05) scale(0.87 1)" x="0" y="0" font-size="16.8" text-anchor="middle" fill="#000">5</text>
<text x="153.63" y="1174.05" font-size="16.8" text-anchor="middle" fill="#000">.</text>
<text transform="translate(164.18 1174.05) scale(0.87 1)" x="0" y="0" font-size="16.8" text-anchor="middle" fill="#000">0</text>
<rect x="356.25" y="1311.95" width="7.79" height="1.25" fill="#000"/>
<text transform="translate(368.18 1318.8) scale(0.87 1)" x="0" y="0" font-size="16.8" text-anchor="middle" fill="#000">2</text>
<text x="374.93" y="1318.8" font-size="16.8" text-anchor="middle" fill="#000">.</text>
<text transform="translate(385.48 1318.8) scale(0.87 1)" x="0" y="0" font-size="16.8" text-anchor="middle" fill="#000">5</text>
<rect x="134.95" y="1103.57" width="7.79" height="1.25" fill="#000"/>
<text transform="translate(146.88 1110.42) scale(0.87 1)" x="0" y="0" font-size="16.8" text-anchor="middle" fill="#000">2</text>
<text x="153.63" y="1110.42" font-size="16.8" text-anchor="middle" fill="#000">.</text>
<text transform="translate(164.18 1110.42) scale(0.87 1)" x="0" y="0" font-size="16.8" text-anchor="middle" fill="#000">5</text>
<text transform="translate(427.86 1318.8) scale(0.87 1)" x="0" y="0" font-size="16.8" text-anchor="middle" fill="#000">0</text>
<text x="434.6" y="1318.8" font-size="16.8" text-anchor="middle" fill="#000">.</text>
<text transform="translate(445.16 1318.8) scale(0.87 1)" x="0" y="0" font-size="16.8" text-anchor="middle" fill="#000">0</text>
<text transform="translate(146.88 1046.8) scale(0.87 1)" x="0" y="0" font-size="16.8" text-anchor="middle" fill="#000">0</text>
<text x="153.63" y="1046.8" font-size="16.8" text-anchor="middle" fill="#000">.</text>
<text transform="translate(164.18 1046.8) scale(0.87 1)" x="0" y="0" font-size="16.8" text-anchor="middle" fill="#000">0</text>
<text transform="translate(491.86 1318.8) scale(0.87 1)" x="0" y="0" font-size="16.8" text-anchor="middle" fill="#000">2</text>
<text x="498.6" y="1318.8" font-size="16.8" text-anchor="middle" fill="#000">.</text>
<text transform="translate(509.16 1318.8) scale(0.87 1)" x="0" y="0" font-size="16.8" text-anchor="middle" fill="#000">5</text>
<text transform="translate(146.88 983.17) scale(0.87 1)" x="0" y="0" font-size="16.8" text-anchor="middle" fill="#000">2</text>
<text x="153.63" y="983.17" font-size="16.8" text-anchor="middle" fill="#000">.</text>
<text transform="translate(164.18 983.17) scale(0.87 1)" x="0" y="0" font-size="16.8" text-anchor="middle" fill="#000">5</text>
<text transform="translate(555.86 1318.8) scale(0.87 1)" x="0" y="0" font-size="16.8" text-anchor="middle" fill="#000">5</text>
<text x="562.61" y="1318.8" font-size="16.8" text-anchor="middle" fill="#000">.</text>
<text transform="translate(573.16 1318.8) scale(0.87 1)" x="0" y="0" font-size="16.8" text-anchor="middle" fill="#000">0</text>
<text transform="translate(146.88 919.55) scale(0.87 1)" x="0" y="0" font-size="16.8" text-anchor="middle" fill="#000">5</text>
<text x="153.63" y="919.55" font-size="16.8" text-anchor="middle" fill="#000">.</text>
<text transform="translate(164.18 919.55) scale(0.87 1)" x="0" y="0" font-size="16.8" text-anchor="middle" fill="#000">0</text>
<text transform="translate(619.86 1318.8) scale(0.87 1)" x="0" y="0" font-size="16.8" text-anchor="middle" fill="#000">7</text>
<text x="626.61" y="1318.8" font-size="16.8" text-anchor="middle" fill="#000">.</text>
<text transform="translate(637.16 1318.8) scale(0.87 1)" x="0" y="0" font-size="16.8" text-anchor="middle" fill="#000">5</text>
<text transform="translate(146.88 855.92) scale(0.87 1)" x="0" y="0" font-size="16.8" text-anchor="middle" fill="#000">7</text>
<text x="153.63" y="855.92" font-size="16.8" text-anchor="middle" fill="#000">.</text>
<text transform="translate(164.18 855.92) scale(0.87 1)" x="0" y="0" font-size="16.8" text-anchor="middle" fill="#000">5</text>
<use href="#g1" transform="translate(675.3 1318.8) scale(0.00714 -0.00820)" fill="#000"/>
<text transform="translate(688.18 1318.8) scale(0.87 1)" x="0" y="0" font-size="16.8" text-anchor="middle" fill="#000">0</text>
<text x="694.93" y="1318.8" font-size="16.8" text-anchor="middle" fill="#000">.</text>
<text transform="translate(705.48 1318.8) scale(0.87 1)" x="0" y="0" font-size="16.8" text-anchor="middle" fill="#000">0</text>
<use href="#g1" transform="translate(134 792.3) scale(0.00714 -0.00820)" fill="#000"/>
<text transform="translate(146.88 792.3) scale(0.87 1)" x="0" y="0" font-size="16.8" text-anchor="middle" fill="#000">0</text>
<text x="153.63" y="792.3" font-size="16.8" text-anchor="middle" fill="#000">.</text>
<text transform="translate(164.18 792.3) scale(0.87 1)" x="0" y="0" font-size="16.8" text-anchor="middle" fill="#000">0</text>
<use href="#g1" transform="translate(276.8 775.9) scale(0.00901 -0.01035)" fill="#000"/>
<use href="#g1" transform="translate(287.25 775.9) scale(0.00901 -0.01035)" fill="#000"/>
<text x="300.74" y="775.9" font-size="21.2" text-anchor="middle" fill="#000">.</text>
<use href="#g1" transform="translate(308.15 775.9) scale(0.00901 -0.01035)" fill="#000"/>
<text transform="translate(323.94 775.9) scale(0.87 1)" x="0" y="0" font-size="21.2" text-anchor="middle" fill="#000">0</text>
<text x="332.09" y="775.9" font-size="21.2" text-anchor="middle" fill="#000">.</text>
<use href="#g1" transform="translate(339.5 775.9) scale(0.00901 -0.01035)" fill="#000"/>
<rect x="351.32" y="767.62" width="9.4" height="1.5" fill="#000"/>
<text transform="translate(366.57 775.9) scale(0.76 1)" x="0" y="0" font-size="21.2" text-anchor="middle" fill="#000">D</text>
<text transform="translate(377.02 775.9) scale(0.85 1)" x="0 12.29" y="0" font-size="21.2" text-anchor="middle" fill="#000">ie</text>
<text transform="translate(397.09 775.9) scale(0.87 1)" x="0" y="0" font-size="21.2" text-anchor="middle" fill="#000">4</text>
<text transform="translate(418.82 775.9) scale(0.76 1)" x="0" y="0" font-size="21.2" text-anchor="middle" fill="#000">D</text>
<text transform="translate(429.27 775.9) scale(0.85 1)" x="0 12.29" y="0" font-size="21.2" text-anchor="middle" fill="#000">ie</text>
<text transform="translate(449.34 775.9) scale(0.87 1)" x="0" y="0" font-size="21.2" text-anchor="middle" fill="#000">4</text>
<text transform="translate(471.07 775.9) scale(0.68 1)" x="0" y="0" font-size="21.2" text-anchor="middle" fill="#000">M</text>
<text transform="translate(481.52 775.9) scale(0.85 1)" x="0 12.29 24.59" y="0" font-size="21.2" text-anchor="middle" fill="#000">ark</text>
<text transform="translate(512.04 775.9) scale(0.87 1)" x="0" y="0" font-size="21.2" text-anchor="middle" fill="#000">4</text>
<text x="529.15" y="775.9" font-size="21.2">3</text>
<text x="541.15" y="775.9" font-size="21.5" font-style="italic">σ</text>
<path d="M562.98 759.94 L561.18 763.04 L559.11 765.63 L557.3 767.95 M567.38 759.17 L568.93 762.27 L571.51 765.11 L574.1 767.18 M560.66 768.57 L570.48 768.57 L570.22 775.71 L569.7 777 L566.34 776.74 M564.53 768.99 L563.5 772.6 L561.18 775.71 L557.82 777.51 M576.16 762.27 L594.25 762.27 M584.95 758.91 L582.36 763.56 L579.26 767.44 L576.42 770.54 M580.81 767.7 L580.81 775.45 M580.81 767.7 L592.44 767.7 L592.18 774.41 L591.67 775.19 L589.5 774.93 M586.24 763.82 L586.24 777.51" fill="none" stroke="#000" stroke-width="1.6" stroke-linecap="square" stroke-linejoin="miter"/>
<rect x="546" y="794" width="137.85" height="158" rx="3.5" ry="3.5" fill="#fff" fill-opacity="0.8" stroke="#cccccc" stroke-opacity="0.8" stroke-width="1.7"/>
<path d="M553.6 810.4 H587.45" stroke="#ff0000" stroke-width="3" stroke-linecap="square"/>
<path d="M553.6 835.5 H587.45" stroke="#0000ff" stroke-width="3" stroke-linecap="square"/>
<path d="M553.6 860.5 H587.45" stroke="#008000" stroke-width="3" stroke-linecap="square"/>
<path d="M553.6 892.1 H587.45 V879.9 H553.6 Z" fill="none" stroke="#a52a2a" stroke-width="3"/>
<path d="M553.6 917.7 H587.45 V905.5 H553.6 Z" fill="none" stroke="#ff00ff" stroke-width="3" stroke-dasharray="12.85 5.55"/>
<path d="M553.6 943.3 H587.45 V931.1 H553.6 Z" fill="none" stroke="#ffa500" stroke-width="3" stroke-dasharray="22.2 5.6 3.5 5.6"/>
<text x="602.35" y="815.7" font-size="18.1">3</text>
<text x="612.85" y="815.7" font-size="18.4" font-style="italic">σ</text>
<use href="#g1" transform="translate(631.6 815.7) scale(0.00714 -0.00820)" fill="#000"/>
<text transform="translate(645.18 815.7) scale(0.85 1)" x="0" y="0" font-size="16.8" text-anchor="middle" fill="#000">u</text>
<text transform="translate(653.83 815.7) scale(0.7 1)" x="0" y="0" font-size="16.8" text-anchor="middle" fill="#000">m</text>
<text x="602.35" y="840.8" font-size="18.1">2</text>
<text x="612.85" y="840.8" font-size="18.4" font-style="italic">σ</text>
<text transform="translate(635.83 840.8) scale(0.87 1)" x="0" y="0" font-size="16.8" text-anchor="middle" fill="#000">0</text>
<text x="642.58" y="840.8" font-size="16.8" text-anchor="middle" fill="#000">.</text>
<text transform="translate(653.13 840.8) scale(0.87 1)" x="0" y="0" font-size="16.8" text-anchor="middle" fill="#000">8</text>
<text transform="translate(662.48 840.8) scale(0.85 1)" x="0" y="0" font-size="16.8" text-anchor="middle" fill="#000">u</text>
<text transform="translate(671.12 840.8) scale(0.7 1)" x="0" y="0" font-size="16.8" text-anchor="middle" fill="#000">m</text>
<text x="602.35" y="865.8" font-size="18.1">1</text>
<text x="612.85" y="865.8" font-size="18.4" font-style="italic">σ</text>
<text transform="translate(635.83 865.8) scale(0.87 1)" x="0" y="0" font-size="16.8" text-anchor="middle" fill="#000">0</text>
<text x="642.58" y="865.8" font-size="16.8" text-anchor="middle" fill="#000">.</text>
<text transform="translate(653.13 865.8) scale(0.87 1)" x="0" y="0" font-size="16.8" text-anchor="middle" fill="#000">5</text>
<text transform="translate(662.48 865.8) scale(0.85 1)" x="0" y="0" font-size="16.8" text-anchor="middle" fill="#000">u</text>
<text transform="translate(671.12 865.8) scale(0.7 1)" x="0" y="0" font-size="16.8" text-anchor="middle" fill="#000">m</text>
<text x="602.35" y="891.3" font-size="18.1">1</text>
<text x="612.85" y="891.3" font-size="18.4" font-style="italic">σ</text>
<text x="602.35" y="916.9" font-size="18.1">2</text>
<text x="612.85" y="916.9" font-size="18.4" font-style="italic">σ</text>
<text x="602.35" y="942.5" font-size="18.1">3</text>
<text x="612.85" y="942.5" font-size="18.4" font-style="italic">σ</text>
<g fill="none" stroke-width="3.1" transform="translate(1028.1 1006.55) rotate(136.7)">
<path d="M0 -14.17 A23.17 14.17 0 0 0 -23.17 0 A23.17 14.17 0 0 0 0 14.17 A23.17 14.17 0 0 0 23.17 0 A23.17 14.17 0 0 0 0 -14.17" stroke="#a52a2a"/>
<path d="M0 -28.33 A46.33 28.33 0 0 0 -46.33 0 A46.33 28.33 0 0 0 0 28.33 A46.33 28.33 0 0 0 46.33 0 A46.33 28.33 0 0 0 0 -28.33" stroke="#ff00ff" stroke-dasharray="12.85 5.55"/>
<path d="M0 -42.5 A69.5 42.5 0 0 0 -69.5 0 A69.5 42.5 0 0 0 0 42.5 A69.5 42.5 0 0 0 69.5 0 A69.5 42.5 0 0 0 0 -42.5" stroke="#ffa500" stroke-dasharray="22.2 5.6 3.5 5.6"/>
</g>
<circle cx="1064" cy="966.5" r="2.35" fill="#1f77b4"/>
<circle cx="969.5" cy="1018" r="2.35" fill="#1f77b4"/>
<circle cx="981.5" cy="1033.5" r="2.35" fill="#1f77b4"/>
<circle cx="992.5" cy="1002.5" r="2.35" fill="#1f77b4"/>
<circle cx="1006.5" cy="995.5" r="2.35" fill="#1f77b4"/>
<circle cx="996.5" cy="1014.5" r="2.35" fill="#1f77b4"/>
<circle cx="1006.5" cy="1021" r="2.35" fill="#1f77b4"/>
<circle cx="1009.5" cy="1029.5" r="2.35" fill="#1f77b4"/>
<circle cx="1019.5" cy="1036.5" r="2.35" fill="#1f77b4"/>
<circle cx="1031" cy="1034" r="2.35" fill="#1f77b4"/>
<circle cx="1042.5" cy="1065" r="2.35" fill="#1f77b4"/>
<circle cx="1039" cy="983.5" r="2.35" fill="#1f77b4"/>
<circle cx="1044" cy="982" r="2.35" fill="#1f77b4"/>
<circle cx="1049" cy="982" r="2.35" fill="#1f77b4"/>
<circle cx="1015.5" cy="1008" r="2.35" fill="#1f77b4"/>
<circle cx="1024.5" cy="999.3" r="2.35" fill="#1f77b4"/>
<circle cx="1024" cy="1000" r="2.35" fill="#1f77b4"/>
<circle cx="1028" cy="1000" r="2.35" fill="#1f77b4"/>
<circle cx="1031" cy="1000" r="2.35" fill="#1f77b4"/>
<circle cx="1024" cy="1005" r="2.35" fill="#1f77b4"/>
<circle cx="1028" cy="1005" r="2.35" fill="#1f77b4"/>
<circle cx="1031" cy="1005" r="2.35" fill="#1f77b4"/>
<circle cx="1024" cy="1010" r="2.35" fill="#1f77b4"/>
<circle cx="1028" cy="1010" r="2.35" fill="#1f77b4"/>
<circle cx="1031" cy="1010" r="2.35" fill="#1f77b4"/>
<circle cx="1014" cy="1022" r="2.35" fill="#1f77b4"/>
<circle cx="1022" cy="1022" r="2.35" fill="#1f77b4"/>
<circle cx="1030" cy="1022" r="2.35" fill="#1f77b4"/>
<circle cx="1018" cy="1017" r="2.35" fill="#1f77b4"/>
<circle cx="1015" cy="1012" r="2.35" fill="#1f77b4"/>
<circle cx="1034" cy="991" r="2.35" fill="#1f77b4"/>
<circle cx="1039" cy="991" r="2.35" fill="#1f77b4"/>
<circle cx="1044" cy="991" r="2.35" fill="#1f77b4"/>
<circle cx="1034" cy="995" r="2.35" fill="#1f77b4"/>
<circle cx="1039" cy="995" r="2.35" fill="#1f77b4"/>
<circle cx="1044" cy="995" r="2.35" fill="#1f77b4"/>
<circle cx="1034" cy="998" r="2.35" fill="#1f77b4"/>
<circle cx="1039" cy="998" r="2.35" fill="#1f77b4"/>
<circle cx="1044" cy="998" r="2.35" fill="#1f77b4"/>
<circle cx="1046" cy="1002" r="2.35" fill="#1f77b4"/>
<circle cx="1042" cy="1005" r="2.35" fill="#1f77b4"/>
<circle cx="1038" cy="1003" r="2.35" fill="#1f77b4"/>
<circle cx="1047.6" cy="1008.8" r="2.35" fill="#1f77b4"/>
<path d="M795.5 1040 H1306.5 M1051 786.5 V1295.5" stroke="#808080" stroke-width="1.75" fill="none"/>
<ellipse cx="1051" cy="1040" rx="25.55" ry="25.45" fill="none" stroke="#ff0000" stroke-width="3"/>
<ellipse cx="1051" cy="1040" rx="20.44" ry="20.36" fill="none" stroke="#0000ff" stroke-width="3"/>
<ellipse cx="1051" cy="1040" rx="12.78" ry="12.72" fill="none" stroke="#008000" stroke-width="3"/>
<use href="#g6" transform="translate(1064 966) scale(17.3)"/>
<text transform="translate(1076.28 966) scale(0.87 1)" x="0" y="0" font-size="17" text-anchor="middle" fill="#000">0</text>
<text transform="translate(973.13 1017.5) scale(0.87 1)" x="0 9.94" y="0" font-size="17" text-anchor="middle" fill="#000">73</text>
<text transform="translate(985.13 1033) scale(0.87 1)" x="0" y="0" font-size="17" text-anchor="middle" fill="#000">4</text>
<use href="#g9" transform="translate(990.15 1033) scale(17.3)"/>
<use href="#g6" transform="translate(992.5 1002) scale(17.3)"/>
<text transform="translate(1004.78 1002) scale(0.87 1)" x="0" y="0" font-size="17" text-anchor="middle" fill="#000">7</text>
<text transform="translate(1010.13 995) scale(0.87 1)" x="0 9.94" y="0" font-size="17" text-anchor="middle" fill="#000">48</text>
<text transform="translate(1000.13 1014) scale(0.87 1)" x="0 9.94" y="0" font-size="17" text-anchor="middle" fill="#000">77</text>
<use href="#g6" transform="translate(1006.5 1020.5) scale(17.3)"/>
<use href="#g1" transform="translate(1014.5 1020.5) scale(0.00722 -0.00830)" fill="#000"/>
<text transform="translate(1013.13 1029) scale(0.87 1)" x="0 9.94" y="0" font-size="17" text-anchor="middle" fill="#000">45</text>
<text transform="translate(1023.13 1036) scale(0.87 1)" x="0 9.94" y="0" font-size="17" text-anchor="middle" fill="#000">52</text>
<text transform="translate(1034.63 1033.5) scale(0.87 1)" x="0" y="0" font-size="17" text-anchor="middle" fill="#000">5</text>
<use href="#g9" transform="translate(1039.65 1033.5) scale(17.3)"/>
<use href="#g6" transform="translate(1042.5 1064.5) scale(17.3)"/>
<use href="#g9" transform="translate(1051.15 1064.5) scale(17.3)"/>
<text transform="translate(1042.63 983) scale(0.87 1)" x="0 9.94" y="0" font-size="17" text-anchor="middle" fill="#000">57</text>
<text transform="translate(1047.63 981.5) scale(0.87 1)" x="0 9.94" y="0" font-size="17" text-anchor="middle" fill="#000">75</text>
<text transform="translate(1052.63 981.5) scale(0.87 1)" x="0" y="0" font-size="17" text-anchor="middle" fill="#000">7</text>
<use href="#g6" transform="translate(1057.65 981.5) scale(17.3)"/>
<text transform="translate(1019.13 1007.5) scale(0.87 1)" x="0 9.94" y="0" font-size="17" text-anchor="middle" fill="#000">44</text>
<use href="#g6" transform="translate(1024.5 998.8) scale(17.3)"/>
<text transform="translate(1036.78 998.8) scale(0.87 1)" x="0" y="0" font-size="17" text-anchor="middle" fill="#000">4</text>
<text transform="translate(1027.63 999.5) scale(0.87 1)" x="0 9.94" y="0" font-size="17" text-anchor="middle" fill="#000">70</text>
<text transform="translate(1031.63 999.5) scale(0.87 1)" x="0 9.94" y="0" font-size="17" text-anchor="middle" fill="#000">72</text>
<text transform="translate(1034.63 999.5) scale(0.87 1)" x="0 9.94" y="0" font-size="17" text-anchor="middle" fill="#000">74</text>
<text transform="translate(1027.63 1004.5) scale(0.87 1)" x="0 9.94" y="0" font-size="17" text-anchor="middle" fill="#000">75</text>
<text transform="translate(1031.63 1004.5) scale(0.87 1)" x="0 9.94" y="0" font-size="17" text-anchor="middle" fill="#000">77</text>
<text transform="translate(1034.63 1004.5) scale(0.87 1)" x="0" y="0" font-size="17" text-anchor="middle" fill="#000">3</text>
<use href="#g9" transform="translate(1039.65 1004.5) scale(17.3)"/>
<text transform="translate(1027.63 1009.5) scale(0.87 1)" x="0 9.94" y="0" font-size="17" text-anchor="middle" fill="#000">52</text>
<text transform="translate(1031.63 1009.5) scale(0.87 1)" x="0 9.94" y="0" font-size="17" text-anchor="middle" fill="#000">57</text>
<text transform="translate(1034.63 1009.5) scale(0.87 1)" x="0 9.94" y="0" font-size="17" text-anchor="middle" fill="#000">58</text>
<use href="#g6" transform="translate(1014 1021.5) scale(17.3)"/>
<use href="#g6" transform="translate(1022.65 1021.5) scale(17.3)"/>
<use href="#g6" transform="translate(1022 1021.5) scale(17.3)"/>
<text transform="translate(1034.28 1021.5) scale(0.87 1)" x="0" y="0" font-size="17" text-anchor="middle" fill="#000">8</text>
<text transform="translate(1033.63 1021.5) scale(0.87 1)" x="0" y="0" font-size="17" text-anchor="middle" fill="#000">7</text>
<use href="#g1" transform="translate(1038 1021.5) scale(0.00722 -0.00830)" fill="#000"/>
<text transform="translate(1021.63 1016.5) scale(0.87 1)" x="0 9.94" y="0" font-size="17" text-anchor="middle" fill="#000">78</text>
<text transform="translate(1018.63 1011.5) scale(0.87 1)" x="0" y="0" font-size="17" text-anchor="middle" fill="#000">7</text>
<use href="#g9" transform="translate(1023.65 1011.5) scale(17.3)"/>
<text transform="translate(1037.63 990.5) scale(0.87 1)" x="0" y="0" font-size="17" text-anchor="middle" fill="#000">2</text>
<use href="#g9" transform="translate(1042.65 990.5) scale(17.3)"/>
<text transform="translate(1042.63 990.5) scale(0.87 1)" x="0 9.94" y="0" font-size="17" text-anchor="middle" fill="#000">40</text>
<text transform="translate(1047.63 990.5) scale(0.87 1)" x="0" y="0" font-size="17" text-anchor="middle" fill="#000">4</text>
<use href="#g1" transform="translate(1052 990.5) scale(0.00722 -0.00830)" fill="#000"/>
<text transform="translate(1037.63 994.5) scale(0.87 1)" x="0 9.94" y="0" font-size="17" text-anchor="middle" fill="#000">42</text>
<text transform="translate(1042.63 994.5) scale(0.87 1)" x="0 9.94" y="0" font-size="17" text-anchor="middle" fill="#000">43</text>
<text transform="translate(1047.63 994.5) scale(0.87 1)" x="0 9.94" y="0" font-size="17" text-anchor="middle" fill="#000">44</text>
<text transform="translate(1037.63 997.5) scale(0.87 1)" x="0" y="0" font-size="17" text-anchor="middle" fill="#000">4</text>
<use href="#g6" transform="translate(1042.65 997.5) scale(17.3)"/>
<text transform="translate(1042.63 997.5) scale(0.87 1)" x="0 9.94" y="0" font-size="17" text-anchor="middle" fill="#000">50</text>
<text transform="translate(1047.63 997.5) scale(0.87 1)" x="0" y="0" font-size="17" text-anchor="middle" fill="#000">5</text>
<use href="#g1" transform="translate(1052 997.5) scale(0.00722 -0.00830)" fill="#000"/>
<text transform="translate(1049.63 1001.5) scale(0.87 1)" x="0 9.94" y="0" font-size="17" text-anchor="middle" fill="#000">53</text>
<text transform="translate(1045.63 1004.5) scale(0.87 1)" x="0" y="0" font-size="17" text-anchor="middle" fill="#000">5</text>
<use href="#g6" transform="translate(1050.65 1004.5) scale(17.3)"/>
<use href="#g6" transform="translate(1038 1002.5) scale(17.3)"/>
<use href="#g1" transform="translate(1046 1002.5) scale(0.00722 -0.00830)" fill="#000"/>
<text transform="translate(1051.23 1008.3) scale(0.87 1)" x="0" y="0" font-size="17" text-anchor="middle" fill="#000">4</text>
<use href="#g6" transform="translate(1056.25 1008.3) scale(17.3)"/>
<rect x="795.5" y="786.5" width="511" height="509" fill="none" stroke="#000" stroke-width="1.4"/>
<path d="M795.5 1295.5 v6.1 M795.5 1295.5 h-6.1 M859.38 1295.5 v6.1 M795.5 1231.88 h-6.1 M923.25 1295.5 v6.1 M795.5 1168.25 h-6.1 M987.12 1295.5 v6.1 M795.5 1104.62 h-6.1 M1051 1295.5 v6.1 M795.5 1041 h-6.1 M1114.88 1295.5 v6.1 M795.5 977.38 h-6.1 M1178.75 1295.5 v6.1 M795.5 913.75 h-6.1 M1242.62 1295.5 v6.1 M795.5 850.12 h-6.1 M1306.5 1295.5 v6.1 M795.5 786.5 h-6.1" stroke="#000" stroke-width="1.4" fill="none"/>
<rect x="773.92" y="1311.95" width="7.79" height="1.25" fill="#000"/>
<use href="#g1" transform="translate(781.62 1318.8) scale(0.00714 -0.00820)" fill="#000"/>
<text transform="translate(794.51 1318.8) scale(0.87 1)" x="0" y="0" font-size="16.8" text-anchor="middle" fill="#000">0</text>
<text x="801.25" y="1318.8" font-size="16.8" text-anchor="middle" fill="#000">.</text>
<text transform="translate(811.81 1318.8) scale(0.87 1)" x="0" y="0" font-size="16.8" text-anchor="middle" fill="#000">0</text>
<rect x="740.3" y="1294.45" width="7.79" height="1.25" fill="#000"/>
<use href="#g1" transform="translate(748 1301.3) scale(0.00714 -0.00820)" fill="#000"/>
<text transform="translate(760.88 1301.3) scale(0.87 1)" x="0" y="0" font-size="16.8" text-anchor="middle" fill="#000">0</text>
<text x="767.63" y="1301.3" font-size="16.8" text-anchor="middle" fill="#000">.</text>
<text transform="translate(778.18 1301.3) scale(0.87 1)" x="0" y="0" font-size="16.8" text-anchor="middle" fill="#000">0</text>
<rect x="842.12" y="1311.95" width="7.79" height="1.25" fill="#000"/>
<text transform="translate(854.06 1318.8) scale(0.87 1)" x="0" y="0" font-size="16.8" text-anchor="middle" fill="#000">7</text>
<text x="860.81" y="1318.8" font-size="16.8" text-anchor="middle" fill="#000">.</text>
<text transform="translate(871.36 1318.8) scale(0.87 1)" x="0" y="0" font-size="16.8" text-anchor="middle" fill="#000">5</text>
<rect x="748.95" y="1230.82" width="7.79" height="1.25" fill="#000"/>
<text transform="translate(760.88 1237.67) scale(0.87 1)" x="0" y="0" font-size="16.8" text-anchor="middle" fill="#000">7</text>
<text x="767.63" y="1237.67" font-size="16.8" text-anchor="middle" fill="#000">.</text>
<text transform="translate(778.18 1237.67) scale(0.87 1)" x="0" y="0" font-size="16.8" text-anchor="middle" fill="#000">5</text>
<rect x="906" y="1311.95" width="7.79" height="1.25" fill="#000"/>
<text transform="translate(917.93 1318.8) scale(0.87 1)" x="0" y="0" font-size="16.8" text-anchor="middle" fill="#000">5</text>
<text x="924.68" y="1318.8" font-size="16.8" text-anchor="middle" fill="#000">.</text>
<text transform="translate(935.23 1318.8) scale(0.87 1)" x="0" y="0" font-size="16.8" text-anchor="middle" fill="#000">0</text>
<rect x="748.95" y="1167.2" width="7.79" height="1.25" fill="#000"/>
<text transform="translate(760.88 1174.05) scale(0.87 1)" x="0" y="0" font-size="16.8" text-anchor="middle" fill="#000">5</text>
<text x="767.63" y="1174.05" font-size="16.8" text-anchor="middle" fill="#000">.</text>
<text transform="translate(778.18 1174.05) scale(0.87 1)" x="0" y="0" font-size="16.8" text-anchor="middle" fill="#000">0</text>
<rect x="969.87" y="1311.95" width="7.79" height="1.25" fill="#000"/>
<text transform="translate(981.81 1318.8) scale(0.87 1)" x="0" y="0" font-size="16.8" text-anchor="middle" fill="#000">2</text>
<text x="988.56" y="1318.8" font-size="16.8" text-anchor="middle" fill="#000">.</text>
<text transform="translate(999.11 1318.8) scale(0.87 1)" x="0" y="0" font-size="16.8" text-anchor="middle" fill="#000">5</text>
<rect x="748.95" y="1103.57" width="7.79" height="1.25" fill="#000"/>
<text transform="translate(760.88 1110.42) scale(0.87 1)" x="0" y="0" font-size="16.8" text-anchor="middle" fill="#000">2</text>
<text x="767.63" y="1110.42" font-size="16.8" text-anchor="middle" fill="#000">.</text>
<text transform="translate(778.18 1110.42) scale(0.87 1)" x="0" y="0" font-size="16.8" text-anchor="middle" fill="#000">5</text>
<text transform="translate(1041.36 1318.8) scale(0.87 1)" x="0" y="0" font-size="16.8" text-anchor="middle" fill="#000">0</text>
<text x="1048.11" y="1318.8" font-size="16.8" text-anchor="middle" fill="#000">.</text>
<text transform="translate(1058.66 1318.8) scale(0.87 1)" x="0" y="0" font-size="16.8" text-anchor="middle" fill="#000">0</text>
<text transform="translate(760.88 1046.8) scale(0.87 1)" x="0" y="0" font-size="16.8" text-anchor="middle" fill="#000">0</text>
<text x="767.63" y="1046.8" font-size="16.8" text-anchor="middle" fill="#000">.</text>
<text transform="translate(778.18 1046.8) scale(0.87 1)" x="0" y="0" font-size="16.8" text-anchor="middle" fill="#000">0</text>
<text transform="translate(1105.23 1318.8) scale(0.87 1)" x="0" y="0" font-size="16.8" text-anchor="middle" fill="#000">2</text>
<text x="1111.98" y="1318.8" font-size="16.8" text-anchor="middle" fill="#000">.</text>
<text transform="translate(1122.53 1318.8) scale(0.87 1)" x="0" y="0" font-size="16.8" text-anchor="middle" fill="#000">5</text>
<text transform="translate(760.88 983.17) scale(0.87 1)" x="0" y="0" font-size="16.8" text-anchor="middle" fill="#000">2</text>
<text x="767.63" y="983.17" font-size="16.8" text-anchor="middle" fill="#000">.</text>
<text transform="translate(778.18 983.17) scale(0.87 1)" x="0" y="0" font-size="16.8" text-anchor="middle" fill="#000">5</text>
<text transform="translate(1169.11 1318.8) scale(0.87 1)" x="0" y="0" font-size="16.8" text-anchor="middle" fill="#000">5</text>
<text x="1175.86" y="1318.8" font-size="16.8" text-anchor="middle" fill="#000">.</text>
<text transform="translate(1186.41 1318.8) scale(0.87 1)" x="0" y="0" font-size="16.8" text-anchor="middle" fill="#000">0</text>
<text transform="translate(760.88 919.55) scale(0.87 1)" x="0" y="0" font-size="16.8" text-anchor="middle" fill="#000">5</text>
<text x="767.63" y="919.55" font-size="16.8" text-anchor="middle" fill="#000">.</text>
<text transform="translate(778.18 919.55) scale(0.87 1)" x="0" y="0" font-size="16.8" text-anchor="middle" fill="#000">0</text>
<text transform="translate(1232.98 1318.8) scale(0.87 1)" x="0" y="0" font-size="16.8" text-anchor="middle" fill="#000">7</text>
<text x="1239.73" y="1318.8" font-size="16.8" text-anchor="middle" fill="#000">.</text>
<text transform="translate(1250.28 1318.8) scale(0.87 1)" x="0" y="0" font-size="16.8" text-anchor="middle" fill="#000">5</text>
<text transform="translate(760.88 855.92) scale(0.87 1)" x="0" y="0" font-size="16.8" text-anchor="middle" fill="#000">7</text>
<text x="767.63" y="855.92" font-size="16.8" text-anchor="middle" fill="#000">.</text>
<text transform="translate(778.18 855.92) scale(0.87 1)" x="0" y="0" font-size="16.8" text-anchor="middle" fill="#000">5</text>
<use href="#g1" transform="translate(1288.3 1318.8) scale(0.00714 -0.00820)" fill="#000"/>
<text transform="translate(1301.18 1318.8) scale(0.87 1)" x="0" y="0" font-size="16.8" text-anchor="middle" fill="#000">0</text>
<text x="1307.93" y="1318.8" font-size="16.8" text-anchor="middle" fill="#000">.</text>
<text transform="translate(1318.48 1318.8) scale(0.87 1)" x="0" y="0" font-size="16.8" text-anchor="middle" fill="#000">0</text>
<use href="#g1" transform="translate(748 792.3) scale(0.00714 -0.00820)" fill="#000"/>
<text transform="translate(760.88 792.3) scale(0.87 1)" x="0" y="0" font-size="16.8" text-anchor="middle" fill="#000">0</text>
<text x="767.63" y="792.3" font-size="16.8" text-anchor="middle" fill="#000">.</text>
<text transform="translate(778.18 792.3) scale(0.87 1)" x="0" y="0" font-size="16.8" text-anchor="middle" fill="#000">0</text>
<use href="#g1" transform="translate(890.15 775.9) scale(0.00901 -0.01035)" fill="#000"/>
<use href="#g1" transform="translate(900.6 775.9) scale(0.00901 -0.01035)" fill="#000"/>
<text x="914.09" y="775.9" font-size="21.2" text-anchor="middle" fill="#000">.</text>
<use href="#g1" transform="translate(921.5 775.9) scale(0.00901 -0.01035)" fill="#000"/>
<text transform="translate(937.29 775.9) scale(0.87 1)" x="0" y="0" font-size="21.2" text-anchor="middle" fill="#000">0</text>
<text x="945.44" y="775.9" font-size="21.2" text-anchor="middle" fill="#000">.</text>
<use href="#g1" transform="translate(952.85 775.9) scale(0.00901 -0.01035)" fill="#000"/>
<rect x="964.67" y="767.62" width="9.4" height="1.5" fill="#000"/>
<text transform="translate(979.93 775.9) scale(0.76 1)" x="0" y="0" font-size="21.2" text-anchor="middle" fill="#000">D</text>
<text transform="translate(990.38 775.9) scale(0.85 1)" x="0 12.29" y="0" font-size="21.2" text-anchor="middle" fill="#000">ie</text>
<text transform="translate(1010.44 775.9) scale(0.87 1)" x="0" y="0" font-size="21.2" text-anchor="middle" fill="#000">4</text>
<text transform="translate(1032.18 775.9) scale(0.76 1)" x="0" y="0" font-size="21.2" text-anchor="middle" fill="#000">D</text>
<text transform="translate(1042.63 775.9) scale(0.85 1)" x="0 12.29" y="0" font-size="21.2" text-anchor="middle" fill="#000">ie</text>
<text transform="translate(1062.69 775.9) scale(0.87 1)" x="0" y="0" font-size="21.2" text-anchor="middle" fill="#000">4</text>
<text transform="translate(1084.43 775.9) scale(0.68 1)" x="0" y="0" font-size="21.2" text-anchor="middle" fill="#000">M</text>
<text transform="translate(1094.88 775.9) scale(0.85 1)" x="0 12.29 24.59" y="0" font-size="21.2" text-anchor="middle" fill="#000">ark</text>
<text transform="translate(1125.39 775.9) scale(0.87 1)" x="0" y="0" font-size="21.2" text-anchor="middle" fill="#000">2</text>
<text x="1142.5" y="775.9" font-size="21.2">3</text>
<text x="1154.5" y="775.9" font-size="21.5" font-style="italic">σ</text>
<path d="M1176.33 759.94 L1174.53 763.04 L1172.46 765.63 L1170.65 767.95 M1180.73 759.17 L1182.28 762.27 L1184.86 765.11 L1187.45 767.18 M1174.01 768.57 L1183.83 768.57 L1183.57 775.71 L1183.05 777 L1179.69 776.74 M1177.88 768.99 L1176.85 772.6 L1174.53 775.71 L1171.17 777.51 M1189.51 762.27 L1207.6 762.27 M1198.3 758.91 L1195.71 763.56 L1192.61 767.44 L1189.77 770.54 M1194.16 767.7 L1194.16 775.45 M1194.16 767.7 L1205.79 767.7 L1205.53 774.41 L1205.02 775.19 L1202.85 774.93 M1199.59 763.82 L1199.59 777.51" fill="none" stroke="#000" stroke-width="1.6" stroke-linecap="square" stroke-linejoin="miter"/>
<rect x="1159" y="794" width="137.85" height="158" rx="3.5" ry="3.5" fill="#fff" fill-opacity="0.8" stroke="#cccccc" stroke-opacity="0.8" stroke-width="1.7"/>
<path d="M1166.6 810.4 H1200.45" stroke="#ff0000" stroke-width="3" stroke-linecap="square"/>
<path d="M1166.6 835.5 H1200.45" stroke="#0000ff" stroke-width="3" stroke-linecap="square"/>
<path d="M1166.6 860.5 H1200.45" stroke="#008000" stroke-width="3" stroke-linecap="square"/>
<path d="M1166.6 892.1 H1200.45 V879.9 H1166.6 Z" fill="none" stroke="#a52a2a" stroke-width="3"/>
<path d="M1166.6 917.7 H1200.45 V905.5 H1166.6 Z" fill="none" stroke="#ff00ff" stroke-width="3" stroke-dasharray="12.85 5.55"/>
<path d="M1166.6 943.3 H1200.45 V931.1 H1166.6 Z" fill="none" stroke="#ffa500" stroke-width="3" stroke-dasharray="22.2 5.6 3.5 5.6"/>
<text x="1215.35" y="815.7" font-size="18.1">3</text>
<text x="1225.85" y="815.7" font-size="18.4" font-style="italic">σ</text>
<use href="#g1" transform="translate(1244.6 815.7) scale(0.00714 -0.00820)" fill="#000"/>
<text transform="translate(1258.17 815.7) scale(0.85 1)" x="0" y="0" font-size="16.8" text-anchor="middle" fill="#000">u</text>
<text transform="translate(1266.83 815.7) scale(0.7 1)" x="0" y="0" font-size="16.8" text-anchor="middle" fill="#000">m</text>
<text x="1215.35" y="840.8" font-size="18.1">2</text>
<text x="1225.85" y="840.8" font-size="18.4" font-style="italic">σ</text>
<text transform="translate(1248.83 840.8) scale(0.87 1)" x="0" y="0" font-size="16.8" text-anchor="middle" fill="#000">0</text>
<text x="1255.58" y="840.8" font-size="16.8" text-anchor="middle" fill="#000">.</text>
<text transform="translate(1266.13 840.8) scale(0.87 1)" x="0" y="0" font-size="16.8" text-anchor="middle" fill="#000">8</text>
<text transform="translate(1275.48 840.8) scale(0.85 1)" x="0" y="0" font-size="16.8" text-anchor="middle" fill="#000">u</text>
<text transform="translate(1284.13 840.8) scale(0.7 1)" x="0" y="0" font-size="16.8" text-anchor="middle" fill="#000">m</text>
<text x="1215.35" y="865.8" font-size="18.1">1</text>
<text x="1225.85" y="865.8" font-size="18.4" font-style="italic">σ</text>
<text transform="translate(1248.83 865.8) scale(0.87 1)" x="0" y="0" font-size="16.8" text-anchor="middle" fill="#000">0</text>
<text x="1255.58" y="865.8" font-size="16.8" text-anchor="middle" fill="#000">.</text>
<text transform="translate(1266.13 865.8) scale(0.87 1)" x="0" y="0" font-size="16.8" text-anchor="middle" fill="#000">5</text>
<text transform="translate(1275.48 865.8) scale(0.85 1)" x="0" y="0" font-size="16.8" text-anchor="middle" fill="#000">u</text>
<text transform="translate(1284.13 865.8) scale(0.7 1)" x="0" y="0" font-size="16.8" text-anchor="middle" fill="#000">m</text>
<text x="1215.35" y="891.3" font-size="18.1">1</text>
<text x="1225.85" y="891.3" font-size="18.4" font-style="italic">σ</text>
<text x="1215.35" y="916.9" font-size="18.1">2</text>
<text x="1225.85" y="916.9" font-size="18.4" font-style="italic">σ</text>
<text x="1215.35" y="942.5" font-size="18.1">3</text>
<text x="1225.85" y="942.5" font-size="18.4" font-style="italic">σ</text>
</svg></body></html>
